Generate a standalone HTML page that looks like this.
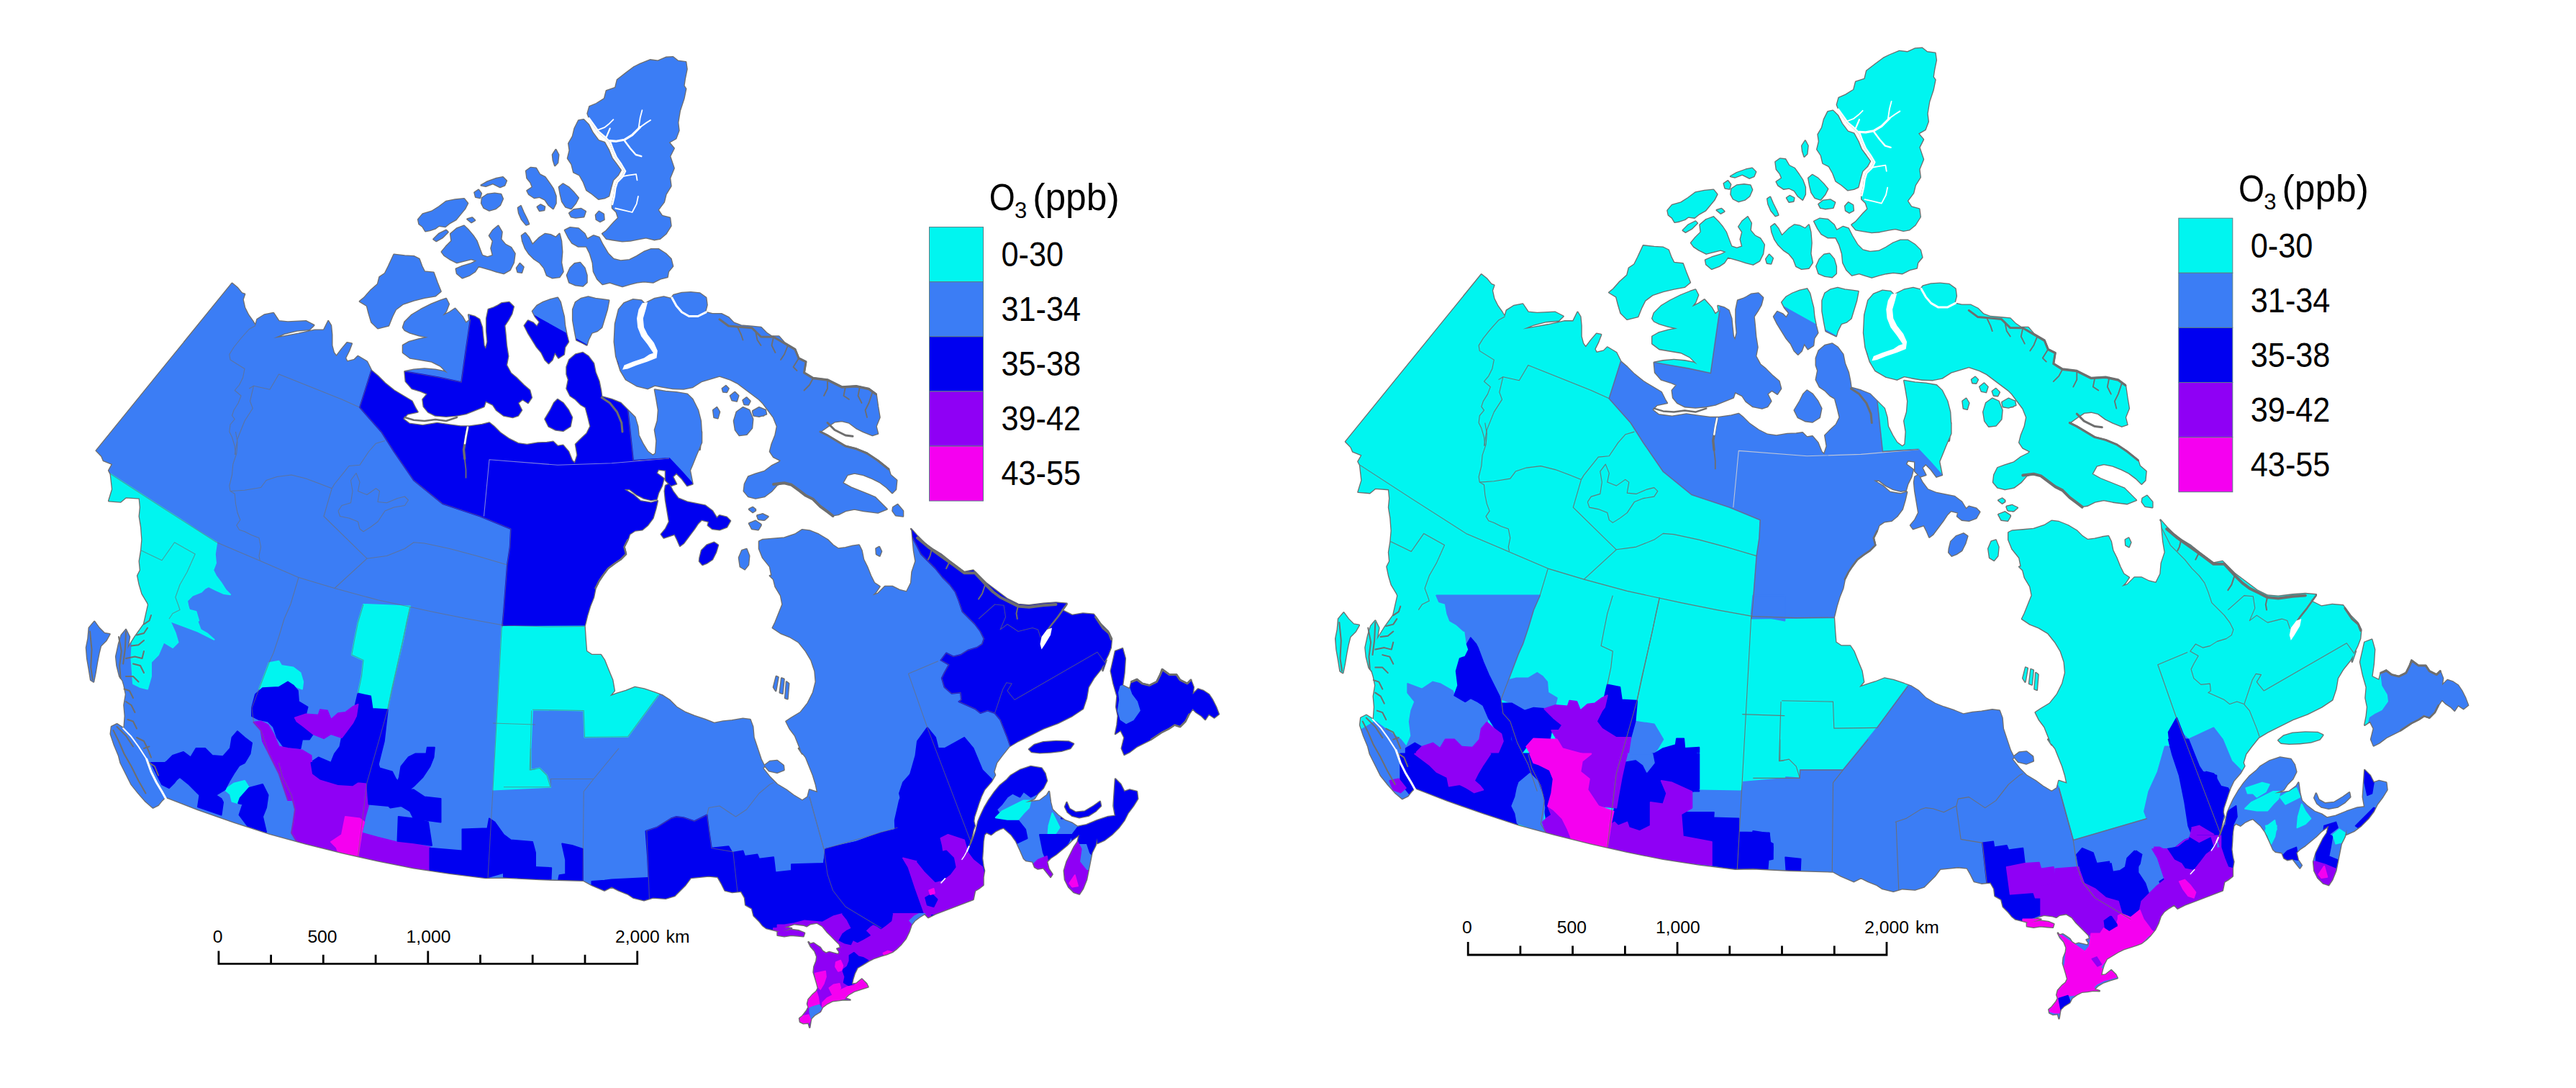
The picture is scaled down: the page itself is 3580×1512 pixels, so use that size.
<!DOCTYPE html>
<html><head><meta charset="utf-8"><title>O3 maps</title>
<style>html,body{margin:0;padding:0;background:#fff}svg{display:block}
.lg{font-family:"Liberation Sans",sans-serif;fill:#000}
.sc{font-family:"Liberation Sans",sans-serif;fill:#000;font-size:24.7px;text-anchor:middle}
</style></head><body>
<svg width="3580" height="1512" viewBox="0 0 3580 1512">
<defs>
<g id="land">
<polygon points="889.7,89 903.4,83.4 914.5,84.8 925.5,79.9 935.2,79.3 942.1,84.8 953.1,86.2 954.5,95.9 951.7,109.7 950.3,119.3 953.1,123.4 950.3,137.2 944.8,153.8 942.1,170.3 943.4,181.4 939.3,192.4 929.7,197.9 936.6,206.2 931,217.2 936.6,233.8 931,247.6 932.4,258.6 925.5,269.7 922.8,280.7 914.5,291.7 920,300 931,302.8 932.4,313.8 925.5,324.8 917.2,331.7 909,333.1 897.9,330.3 889.7,331.7 875.9,334.5 864.8,335.3 851,333.1 842.8,331.7 837.2,324.8 842.8,320.7 853.8,308.3 859.3,302.8 856.6,294.5 851,289 851,283.4 853.8,272.4 855.2,261.4 857.9,253.1 864.8,246.2 869,237.9 863.4,228.3 856.6,218.6 852.4,209 848.3,197.9 840,189.7 831.7,182.8 824.8,173.1 819.3,164.8 816.6,157.9 819.3,148.3 829,144.1 840,137.2 842.8,126.2 855.2,122.1 857.9,111 870.3,101.4 881.4,93.1"/>
<polygon points="804.1,167.6 811,166.2 817.9,173.1 823.4,184.1 831.7,195.2 840,197.9 846.1,209 850.5,220 857.1,228.8 862.6,236.6 858.8,243.4 851.9,250.3 848.8,261.4 846.1,272.4 840,275.2 831.7,276.6 823.4,269.7 815.2,264.1 811,253.1 805.5,243.4 797.2,239.3 794.5,228.3 789,220 791.7,209 790.3,199.3 795.9,189.7 798.6,178.6"/>
<polygon points="581.2,305 587.5,297.5 600,293.8 610,287.5 620,280 632.5,277.5 645,276.2 650,282.5 646.2,290 640,297.5 633.8,305 625,310 618.8,315 610,313.8 605,317.5 597.5,320 591.2,321.2 587.5,315 582.5,311.2"/>
<polygon points="602.5,332.5 610,325 620,320 622.5,322.5 615,330 606.2,335.0"/>
<polygon points="668.8,257.5 677.5,252.5 690,248 698.8,246.2 703.8,251.2 701.2,257.5 695,260 685,255 675,258.8"/>
<polygon points="670,275 677.5,270 687.5,268.8 696.2,270 698.8,276.2 695,285 688.8,290 680,292.5 672.5,288.8 669.2,282.5"/>
<polygon points="659.5,267.5 665,263.8 668.8,268.8 667,275 661.2,273.8"/>
<polygon points="649.5,304.5 656.2,302.5 660,306.2 655,309.0"/>
<polygon points="731.2,237.5 737.5,233 745,233.8 750,242.5 757.5,246.2 763.8,255 768.8,262.5 772.5,272.5 772.5,282.5 768.8,290 762.5,285 757.5,277.5 750,273.8 742.5,275 735,270 732.5,265 740,260 737.5,253.8 732.5,247.5"/>
<polygon points="777,260 782.5,255.5 790,260 797.5,267.5 803.8,275 800,282.5 793.8,290 786.2,287.5 781.2,280 778.8,270.0"/>
<polygon points="768,215 772.5,208 776.2,215 775,226.2 771.2,230 768.8,222.5"/>
<polygon points="746.8,287.5 751.2,284.5 757,287.5 756.2,292 750,293.0"/>
<polygon points="720,288.8 723.8,286.2 727.5,295 732.5,305 735,311.2 731.2,312.5 725,305 721.2,296.2"/>
<polygon points="791.2,296.2 797.5,291.2 807.5,290 813.8,293.8 811.2,301.2 800,302.5 793.8,301.2"/>
<polygon points="828,298.8 832.5,293.8 838.8,297.5 839.5,305 833.8,308 828.8,305.0"/>
<polygon points="613.8,350 620,342.5 627.5,335 626.2,325 635,317.5 645,313.8 651.2,320 657.5,327.5 662.5,335 666.2,345 670,355 677.5,357.5 685,355 682.5,345 685,335 680,327.5 685,320 692.5,313.8 697.5,322.5 696.2,332.5 702.5,340 710,343.8 715.5,352.5 713.8,365 708.8,375 700,380 690,377.5 682.5,375 673.8,372.5 665,370 660,377.5 652.5,382.5 642.5,386.2 635,380 633.8,373.8 642.5,370 655,366.2 662.5,362.5 655,360 645,362.5 635,365 625,360 617.5,355.0"/>
<polygon points="718,372.5 722.5,366.2 727.5,371.2 725,378.8 719.5,378.0"/>
<polygon points="725,327.5 730,323.8 735,330 740,340 745,335 750,330 757.5,325 765,326.2 772.5,330 777.5,325 780,335 781.2,350 780,365 782.5,377.5 777.5,385 767.5,386.2 760,382.5 756.2,372.5 750,365 742.5,360 735,352.5 730,345 726.2,335.0"/>
<polygon points="788,382.5 792.5,372.5 798.8,366.2 806.2,365 812.5,372.5 815.5,382.5 815.5,392.5 810,397.5 800,396.2 791.2,392.5"/>
<polygon points="785,320 792.5,316.2 803.8,317.5 812.5,325 816.2,332.5 825,327.5 832.5,330 837.5,340 845,352.5 852.5,360 862.5,362.5 875,361.2 885,356.2 895,350 905,346.2 915,346.2 925,352.5 932.5,360 935,370 928.8,377.5 927.5,385 917.5,387.5 907.5,392.5 895,391.2 885,392.5 875,395 865,398 855,395 847.5,392.5 837.5,395 830,387.5 825,377.5 823.8,365 820,352.5 815,342.5 803.8,342.5 795,337.5 790,330.0"/>
<polygon points="322.5,393.8 330,400 336.2,407.5 340,408.8 337.5,416.2 340,427.5 345,437.5 351.2,446.2 355,452.5 357.5,443.8 367.5,437.5 380,435 387.5,446.2 400,447.5 425,446.2 436.2,452 430,458 412.5,459.5 395,463.8 380,470 395,467.5 415,463.8 437.5,458.8 450,458.8 456.2,446.2 460,452.5 461.2,465 461.2,480 463.8,490 467.5,495 475,485 482.5,476.2 488.8,477.5 485,487.5 480,497.5 482.5,502.5 492.5,500 497.5,495 510,502.5 516.2,515 525,522.5 535,532.5 547.5,542.5 560,550 572.5,557.5 577.5,567.5 580.5,572.5 566.2,575.5 560,582 568.8,588.8 587.5,591.2 607.5,588 625,590.5 640,592.5 652.5,592.5 670,590 680,587.5 686.2,592.5 695,601.2 707.5,610 720,616.2 732.5,618 747.5,615.5 760,615 768.8,613.8 775,620 782.5,618.8 790,627.5 795,640 798.8,643.8 802.5,632.5 800,617.5 806.2,611.2 815.5,602.5 820.5,592.5 817.5,580 813.8,566.2 807.5,562.5 800,555 792.5,550 787.5,540 790,527.5 787.5,520 787.5,510 791.2,500 800,492.5 810,490 817.5,495 825,505 827.5,517.5 832.5,530 835,542.5 836.2,551.2 850,555 862.5,560 872.5,570 882.5,580 886.2,592.5 887.5,605 893.8,617.5 900,627.5 907.5,633 911.2,630 912.5,612.5 910,597.5 913.8,585 915,570 912.5,555 910,541.5 925,544 940,545.2 955,547.8 962.5,555 970,570 973.8,585 975,605 972.5,625 975,600 975,615 967.5,632.5 962.5,645 958.8,653.8 962.5,672.5 955,675 947.5,665 940,657.5 935,662.5 940,672.5 932.5,675 925,667.5 925,653.8 915,652.5 912.5,657.5 922.5,665 920,675 915,685 912.5,693.8 905,695 895,692.5 885,687.5 875,680 867.5,680 880,687.5 890,696.2 905,698.8 913.8,696.2 911.2,707.5 907.5,720 900,730 892.5,736.2 882.5,737.5 875,742.5 872.5,750 867.5,760 870,770 862.5,777.5 855,782.5 845,790 837.5,800 832.5,807.5 827.5,817.5 825,830 820,842.5 816.2,855 813.8,865 812.5,870 813.8,890 815,905 822.5,910 835,910 840,917.5 845,930 851.2,945 853.8,960 847.5,967.5 857.5,963.8 870,960 882.5,955 895,957.5 910,962.5 920,966.2 930,972.5 940,982.5 952.5,990 965,995 980,1000 992.5,1005 1005,1002.5 1017.5,1001.2 1032.5,998.8 1042.5,1000 1046.2,1010 1047.5,1025 1052.5,1040 1057.5,1055 1062.5,1065 1060,1067.5 1070,1080 1080,1090 1092.5,1097.5 1102.5,1105 1115,1112.5 1122.5,1107.5 1125,1097.5 1136.2,1101.2 1133.8,1090 1130,1077.5 1125,1065 1120,1052.5 1110,1040 1115,1047.5 1110,1035 1105,1022.5 1097.5,1012.5 1092.5,1002.5 1100,997.5 1112.5,990 1122.5,977.5 1130,962.5 1133.8,947.5 1132.5,932.5 1127.5,917.5 1120,905 1110,892.5 1097.5,885 1085,880 1073.8,872.5 1077.5,865 1082.5,852.5 1087.5,840 1085,827.5 1077.5,815 1075,805 1070,800 1072.5,800 1070,787.5 1060,775 1055,762.5 1055,752.5 1060,750 1075,748.8 1090,747.5 1105,742.5 1115,736.2 1125,737.5 1137.5,742.5 1150,750 1157.5,757.5 1165,762.5 1175,761.2 1185,758.8 1193.8,757.5 1197.5,765 1200,777.5 1205,787.5 1210,800 1215,810 1222.5,815 1217.5,822.5 1212.5,827.5 1220,825 1230,815 1240,815 1250,820 1260,822.5 1266.2,810 1267.5,795 1272.5,780 1270,765 1268.8,752.5 1267.5,737.5 1266.2,735 1275,745 1285,755 1295,762.5 1307.5,770 1320,780 1330,787.5 1340,795 1352.5,792.5 1360,800 1370,810 1380,817.5 1390,825 1400,832.5 1415,840 1430,841.2 1450,838.8 1467.5,837.5 1482.5,838.8 1475,847.5 1490,855 1505,852.5 1520,853.8 1530,867.5 1540,877.5 1545,887.5 1543.8,900 1540,910 1535,920 1532.5,932 1537.5,917.5 1530,930 1520,942.5 1512.5,955 1510,970 1505,985 1490,995 1470,1005 1450,1012.5 1430,1022.5 1415,1030 1402.5,1037.5 1392.5,1050 1385,1060 1381.2,1072.5 1383,1077 1377.5,1086.5 1368,1097.5 1363.5,1107 1360.2,1116.2 1357.2,1125.5 1354,1135 1353.2,1141.2 1354.8,1147.5 1352.5,1153.8 1351,1161.5 1348.5,1169.5 1346.2,1177.2 1347.5,1177.2 1351,1169.5 1354,1161.5 1356.5,1153.8 1358,1147.5 1359.5,1141.2 1363.5,1132 1368,1122.5 1374.5,1111.5 1382.2,1100.5 1390,1091.2 1399.5,1083.5 1405,1077.5 1417.5,1070 1432.5,1065 1447.5,1067.5 1452.5,1075 1455,1085 1450,1095 1442.5,1102.5 1437.5,1110 1425,1115 1445,1112.5 1455,1105 1458,1100 1460,1115 1462.5,1125 1470,1132.5 1480,1140 1490,1143.8 1497.5,1148.8 1510,1146.2 1525,1140 1540,1135 1550,1133.8 1547.5,1120 1548.8,1100 1550,1082.5 1557.5,1090 1562.5,1100 1570,1097.5 1580,1100 1581.2,1110 1575,1120 1567.5,1130 1562.5,1140 1555,1150 1545,1160 1535,1167.5 1525,1172 1525,1165 1522.5,1175 1517.5,1185 1515,1197.5 1512.5,1210 1510,1222.5 1505,1235 1500,1242.5 1492.5,1240 1485,1232.5 1480,1222.5 1478.8,1210 1482.5,1197.5 1487.5,1187.5 1492.5,1177.5 1497.5,1170 1500,1160 1490,1167.5 1482.5,1175 1475,1181.2 1467.5,1187.5 1460,1192.5 1455,1197.5 1457.5,1207.5 1462.5,1215 1460,1218.8 1455,1212.5 1450,1206.2 1442.5,1207.5 1438,1205 1435,1197.5 1426,1196 1422.8,1193 1418,1182 1412,1169 1405.5,1160 1394.8,1150.5 1390,1152 1383.8,1155 1377.5,1160 1371,1157 1368,1160 1366.5,1169 1365.8,1182 1365,1193 1366.5,1203.8 1368,1210 1366.5,1219 1366.5,1230 1360,1235 1355,1238 1352.5,1250 1300,1270 1290,1275 1285.3,1270 1277.5,1274.7 1271.2,1279.4 1266.6,1285.6 1263.4,1295 1258.8,1304.4 1252.5,1312.2 1246.2,1318.4 1240,1323.1 1232.2,1326.2 1224.4,1328.6 1215,1331.7 1207.2,1335.6 1199.4,1340.3 1191.6,1345 1187.7,1352.8 1185.3,1360.6 1183.8,1367.7 1190,1366.9 1197.8,1360.6 1204.1,1366.9 1206.4,1371.6 1196.2,1374.7 1186.9,1377.8 1179.1,1382.5 1174.4,1387.2 1181.4,1389.5 1172.8,1389.1 1165,1390.3 1157.2,1391.1 1149.4,1395 1143.1,1399.7 1140,1405.9 1132.2,1410.6 1127.5,1415.3 1126.7,1418.4 1125.2,1427.8 1123.6,1421.6 1116.6,1422.3 1111.9,1420 1111.1,1415.3 1115,1412.2 1121.2,1404.4 1123.6,1399.7 1122,1395 1123.6,1388.8 1129.1,1382.5 1134.5,1377.8 1136.9,1373.1 1135.3,1366.9 1133,1359.1 1130.6,1351.2 1131.4,1343.4 1134.5,1335.6 1135.3,1329.4 1132.2,1321.6 1126.7,1315.3 1123.6,1309.1 1125.9,1311.9 1130.6,1310.6 1135.3,1313.8 1140,1316.9 1143.1,1321.6 1147.8,1324.7 1152.5,1323.1 1158.8,1324.7 1165,1326.2 1166.6,1323.1 1163.4,1318.4 1168.1,1316.9 1166.6,1312.2 1161.9,1307.5 1155.6,1301.2 1149.4,1295 1143.1,1287.2 1135.3,1282.5 1125.9,1284.1 1121.2,1287.2 1116.6,1285.6 1104.1,1284.1 1090,1288.8 1100,1290 1085,1295 1075,1292.5 1065,1290 1060,1286.2 1055,1280 1047.5,1272.5 1045,1262.5 1036.2,1257.5 1035,1247.5 1030,1238.8 1017.5,1240 1007.5,1237.5 1002.5,1227.5 997.5,1218.8 985,1217.5 972.5,1218.8 960,1220 952.5,1230 945,1237.5 937.5,1245 925,1248.8 907.5,1247.5 895,1251.2 880,1247.5 872.5,1242.5 860,1237.5 850,1232.5 840,1237.5 822.5,1230 811.2,1223.8 810,1223.8 750,1222 700,1219.5 675,1220 625,1213.8 575,1206.2 525,1196.2 475,1185 425,1172.5 375,1158.8 325,1142.5 275,1125 230,1107.5 225,1112.5 220,1118.8 212.5,1122.5 202.5,1113.8 192.5,1102.5 182.5,1090 175,1075 167.5,1060 165,1050 158.8,1035 153.8,1020 155,1010 162.5,1006.2 172.5,1012.5 173.8,995 172.5,980 175,965 172.5,952.5 168.8,940 170,922.5 175,905 187.5,885 200,867.5 206.2,840 208.8,847.5 205,837.5 197.5,825 193.8,812.5 191.2,800 195,792.5 193.8,780 196.2,765 197.5,750 196.2,732.5 193.8,717.5 195,705 193.8,692.5 175,691.2 167.5,697.5 151.2,696.2 156.2,680 153.8,658.8 151.2,653.8 156.2,645 143.8,640 141.2,633.8 133.8,626.2"/>
<polygon points="500,418.8 506.2,413.8 515,403.8 525,395 527.5,385 535,380 540,370 547.5,353.8 562.5,355.5 575,356.2 582.5,360 586.2,370 590,377.5 602.5,378.8 607.5,392.5 612.5,405 605,411.2 590,413.8 575,417.5 560,422.5 550,430 545,440 540,452.5 525,456.2 516.2,447.5 512.5,435 510,425.0"/>
<polygon points="560,455 562.5,447.5 572.5,437.5 585,430 600,422.5 612.5,417.5 620,415 623.8,422.5 620,432.5 615,438.8 625,433.8 632.5,428.8 642.5,440 647.5,448.8 652.5,445 651.2,437.5 660,440 666.2,443.8 670,455 671.2,467.5 672.5,480 675,485 677.5,475 676.2,460 676.2,442.5 678.8,430 686.2,427.5 691.2,425 697.5,421.2 707.5,420 713.8,426.2 711.2,436.2 706.2,445 701.2,452.5 702.5,465 703.8,480 706.2,495 703.8,507.5 710,518.8 717.5,525 727.5,535 736.2,542.5 738.8,552.5 733.8,560 726.2,555 720,560 725,570 720,577.5 712.5,580 700,577.5 690,570 685,562.5 675,557.5 672.5,565 660,570 647.5,575 635,577.5 620,578.8 605,577.5 595,572.5 588.8,565 587.5,555 593.8,547.5 585,543.8 572.5,540 563.8,530 562.5,516.2 575,513.8 590,512.5 605,513.8 617.5,516.2 622.5,518.8 612.5,508.8 600,502.5 585,500 570,497.5 560,490 560,480 568.8,475 582.5,471.2 595,468.8 582.5,466.2 570,462.5 562.5,458.8"/>
<polygon points="728.8,452.5 733.8,445.5 741.2,448.8 746.2,453.8 750,447.5 743.8,440 740,432.5 746.2,425 755,420 765,416.2 775,413.8 778.8,420 781.2,430 783.8,440 785,452.5 787.5,465 790,475 785,482.5 783.8,492.5 776.2,497.5 771.2,490 767.5,500 762.5,505 757.5,500 752.5,490 746.2,482.5 740,472.5 733.8,462.5"/>
<polygon points="796.2,430 800,420 807.5,415 817.5,412.5 827.5,415 837.5,416.2 846.2,417.5 843.8,430 840,442.5 836.2,455 830,460 822.5,462.5 817.5,472.5 815.5,479.5 808.8,476.2 801.2,472.5 798.8,460 796.2,445.0"/>
<polygon points="757.5,582.5 765,570 770,560 775,555 782.5,560 790,570 795,580 792.5,592.5 782.5,598.8 772.5,597.5 762.5,592.5"/>
<polygon points="870,527.5 862.5,515 856.2,495 853.8,475 855,450 860,430 867.5,421.2 880,416.2 891.2,417.5 896.2,422.5 900,420 910,415 922.5,412.5 932.5,415 936.2,410 947.5,407 960,406.2 972.5,407.5 981.2,413.8 982.5,423.8 980,433.8 990,436.2 1002.5,436.2 1012.5,441.2 1020,448.8 1030,452.5 1045,453.8 1057.5,455 1065,462.5 1072.5,467.5 1082.5,467.5 1090,476.2 1105,485 1110,497.5 1120,502.5 1117.5,517.5 1130,525 1150,527.5 1170,537.5 1190,536.2 1207.5,540 1217.5,547.5 1220,565 1222.5,580 1217.5,592.5 1220,602.5 1212.5,605 1200,600 1190,595 1180,587.5 1170,585 1160,586.2 1152.5,591.2 1140,600 1150,605 1162.5,612.5 1175,620 1190,623.8 1205,630 1220,640 1235,652 1237.5,660 1246.2,667.5 1245,680 1240,685 1232.5,677.5 1222.5,670 1212.5,665 1200,660 1187.5,657.5 1177.5,660 1171.2,671.2 1182.5,677.5 1195,682.5 1207.5,687.5 1216.2,691.2 1225,700 1232.5,707.5 1220,712.5 1200,710 1187.5,707.5 1175,710 1165,715 1157.5,716.2 1150,710 1140,702.5 1130,692.5 1120,687.5 1110,680 1100,672.5 1090,670 1080,673.8 1072.5,682.5 1062.5,690 1050,692.5 1040,690 1033.8,682.5 1035,672.5 1040,662.5 1050,658.8 1062.5,655 1072.5,647.5 1082.5,642.5 1085,640 1075,635 1070,627.5 1072.5,617.5 1077.5,605 1080,592.5 1075,580 1067.5,570 1060,560 1055,555 1045,547.5 1035,540 1025,532.5 1015,527.5 1000,522.5 987.5,526.2 975,530 962.5,538 950,540.5 935,540 920,537.5 910,535.5 900,540 885,536.2"/>
<polygon points="925,675 930,672.5 935,682.5 942.5,692.5 955,697.5 967.5,700 980,702.5 990,710 996.2,720 1000,716.2 1010,718.8 1015,723.8 1010,732.5 1000,736.2 990,735 983.8,730 985,725 975,722.5 970,727.5 965,735 957.5,745 950,755 945,758.8 941.2,750 937.5,742.5 930,745 922.5,747.5 918.8,742.5 925,735 930,725 927.5,710 925,695 923.8,682.5"/>
<polygon points="972.5,775 975,765 982.5,757.5 992.5,753.8 998,757.5 995,767.5 990,777.5 982.5,782.5 976.2,785 972,780.0"/>
<polygon points="1027,775 1031.2,765 1037.5,763 1041.2,772.5 1040,785 1035,791.2 1028.8,787.5"/>
<polygon points="1041.2,708 1046.2,706.2 1050,709.5 1046.2,712.0"/>
<polygon points="1052.5,716.2 1060,714.5 1065,718.8 1061.2,722.5 1053.8,721.2"/>
<polygon points="1041.2,727.5 1050,724.5 1057.5,730 1053.8,736.2 1045,735.0"/>
<polygon points="1020,585 1023.8,572.5 1032.5,566.2 1041.2,570 1046.2,582.5 1045,595 1037.5,603.8 1027.5,605 1022,597.5"/>
<polygon points="1046.2,572.5 1055,568 1063.8,570 1065,575.5 1055,578.8 1047.5,577.5"/>
<polygon points="991.2,570 996.2,566.2 1000,572.5 997.5,581.2 992.5,580.0"/>
<polygon points="1241.2,705 1247.5,701.2 1255,710 1255,717.5 1245,716.2 1240.5,710.0"/>
<polygon points="1003.8,540 1008.8,536.2 1012.5,540 1010,545 1005,544.5"/>
<polygon points="1015,550 1021.2,545 1026.2,550 1023.8,557.5 1017.5,556.2"/>
<polygon points="1032.5,556.2 1037.5,552.5 1042.5,557.5 1040,562.5 1034.5,562.0"/>
<polygon points="1046.2,571.2 1055,566.2 1063.8,570 1061.2,577.5 1050,577.5"/>
<polygon points="1550,905 1560,901.2 1563.8,915 1562.5,935 1560,952.5 1570,957.5 1572.5,947.5 1580,943.8 1587.5,950 1597.5,952.5 1607.5,947.5 1612.5,937.5 1615,930 1625,937.5 1635,937.5 1640,945 1650,950 1655,945 1658.8,955 1657.5,965 1665,957.5 1672.5,960 1680,965 1685,972.5 1690,982.5 1693.8,992.5 1687.5,997.5 1680,992.5 1675,1000 1670,995 1662.5,990 1657.5,985 1652.5,992.5 1647.5,1002.5 1640,1010 1632.5,1007.5 1625,1012.5 1615,1017.5 1607.5,1022.5 1600,1027.5 1590,1032.5 1580,1037.5 1570,1045 1562.5,1048.8 1558.8,1040 1562.5,1025 1557.5,1015 1550,1020 1552.5,1007.5 1553.8,995 1551.2,982.5 1552.5,967.5 1547.5,950 1543.8,932.5"/>
<polygon points="1430,1041.2 1437.5,1035 1450,1031.2 1467.5,1030 1485,1030.5 1492,1033.8 1487.5,1040 1475,1043.8 1460,1045.5 1445,1046.2 1433.8,1045.0"/>
<polygon points="1480,1121.2 1482.5,1115 1486.2,1123.8 1495,1128.8 1507.5,1127.5 1520,1120 1528.8,1113.8 1530,1120 1522.5,1127.5 1512.5,1133.8 1500,1136.2 1490,1133.8 1483.8,1128.8"/>
<polygon points="123.8,872.5 131.2,863.8 137.5,872.5 145,880 152.5,881.2 147.5,890 140,897.5 137.5,907.5 135,920 132.5,935 130,947.5 126.2,945 123.8,930 121.2,915 120,900 122.5,887.5"/>
<polygon points="161.2,912.5 165,895 168.8,882.5 175,875 180,885 177.5,900 175,915 172.5,930 170,945 166.2,940 162.5,925.0"/>
<polygon points="1062.5,1063.8 1070,1058 1080,1057 1088.8,1063.8 1089.5,1070 1080,1073.8 1068.8,1071.2"/>
<polygon points="1217.5,762.5 1222,760 1225,766.2 1222.5,772.5 1218,770.0"/>
<polygon points="1041.2,707.5 1046.2,705 1050,708 1046.2,711.2"/>
<polygon points="1052.5,717.5 1060,714.5 1067.5,718 1062.5,722.5 1055,722.0"/>
<polygon points="1041.2,727.5 1050,723.8 1057.5,728.8 1053.8,735 1045,733.8"/>
<polygon points="1090,1293.4 1099.4,1291.9 1110.3,1293.4 1118.1,1296.6 1116.6,1301.2 1108.8,1300.5 1099.4,1299.7 1090,1301.2 1080.6,1299.7 1080.6,1295.0"/>
<polygon points="1075,955 1078.8,940 1081.5,941.2 1078.2,960.0"/>
<polygon points="1083.8,962.5 1086.2,942.5 1089.5,943.8 1087.5,963.8"/>
<polygon points="1091.2,970 1093,947.5 1096.2,950 1094.5,971.2"/>
</g>
<clipPath id="lc">
<polygon points="889.7,89 903.4,83.4 914.5,84.8 925.5,79.9 935.2,79.3 942.1,84.8 953.1,86.2 954.5,95.9 951.7,109.7 950.3,119.3 953.1,123.4 950.3,137.2 944.8,153.8 942.1,170.3 943.4,181.4 939.3,192.4 929.7,197.9 936.6,206.2 931,217.2 936.6,233.8 931,247.6 932.4,258.6 925.5,269.7 922.8,280.7 914.5,291.7 920,300 931,302.8 932.4,313.8 925.5,324.8 917.2,331.7 909,333.1 897.9,330.3 889.7,331.7 875.9,334.5 864.8,335.3 851,333.1 842.8,331.7 837.2,324.8 842.8,320.7 853.8,308.3 859.3,302.8 856.6,294.5 851,289 851,283.4 853.8,272.4 855.2,261.4 857.9,253.1 864.8,246.2 869,237.9 863.4,228.3 856.6,218.6 852.4,209 848.3,197.9 840,189.7 831.7,182.8 824.8,173.1 819.3,164.8 816.6,157.9 819.3,148.3 829,144.1 840,137.2 842.8,126.2 855.2,122.1 857.9,111 870.3,101.4 881.4,93.1"/>
<polygon points="804.1,167.6 811,166.2 817.9,173.1 823.4,184.1 831.7,195.2 840,197.9 846.1,209 850.5,220 857.1,228.8 862.6,236.6 858.8,243.4 851.9,250.3 848.8,261.4 846.1,272.4 840,275.2 831.7,276.6 823.4,269.7 815.2,264.1 811,253.1 805.5,243.4 797.2,239.3 794.5,228.3 789,220 791.7,209 790.3,199.3 795.9,189.7 798.6,178.6"/>
<polygon points="581.2,305 587.5,297.5 600,293.8 610,287.5 620,280 632.5,277.5 645,276.2 650,282.5 646.2,290 640,297.5 633.8,305 625,310 618.8,315 610,313.8 605,317.5 597.5,320 591.2,321.2 587.5,315 582.5,311.2"/>
<polygon points="602.5,332.5 610,325 620,320 622.5,322.5 615,330 606.2,335.0"/>
<polygon points="668.8,257.5 677.5,252.5 690,248 698.8,246.2 703.8,251.2 701.2,257.5 695,260 685,255 675,258.8"/>
<polygon points="670,275 677.5,270 687.5,268.8 696.2,270 698.8,276.2 695,285 688.8,290 680,292.5 672.5,288.8 669.2,282.5"/>
<polygon points="659.5,267.5 665,263.8 668.8,268.8 667,275 661.2,273.8"/>
<polygon points="649.5,304.5 656.2,302.5 660,306.2 655,309.0"/>
<polygon points="731.2,237.5 737.5,233 745,233.8 750,242.5 757.5,246.2 763.8,255 768.8,262.5 772.5,272.5 772.5,282.5 768.8,290 762.5,285 757.5,277.5 750,273.8 742.5,275 735,270 732.5,265 740,260 737.5,253.8 732.5,247.5"/>
<polygon points="777,260 782.5,255.5 790,260 797.5,267.5 803.8,275 800,282.5 793.8,290 786.2,287.5 781.2,280 778.8,270.0"/>
<polygon points="768,215 772.5,208 776.2,215 775,226.2 771.2,230 768.8,222.5"/>
<polygon points="746.8,287.5 751.2,284.5 757,287.5 756.2,292 750,293.0"/>
<polygon points="720,288.8 723.8,286.2 727.5,295 732.5,305 735,311.2 731.2,312.5 725,305 721.2,296.2"/>
<polygon points="791.2,296.2 797.5,291.2 807.5,290 813.8,293.8 811.2,301.2 800,302.5 793.8,301.2"/>
<polygon points="828,298.8 832.5,293.8 838.8,297.5 839.5,305 833.8,308 828.8,305.0"/>
<polygon points="613.8,350 620,342.5 627.5,335 626.2,325 635,317.5 645,313.8 651.2,320 657.5,327.5 662.5,335 666.2,345 670,355 677.5,357.5 685,355 682.5,345 685,335 680,327.5 685,320 692.5,313.8 697.5,322.5 696.2,332.5 702.5,340 710,343.8 715.5,352.5 713.8,365 708.8,375 700,380 690,377.5 682.5,375 673.8,372.5 665,370 660,377.5 652.5,382.5 642.5,386.2 635,380 633.8,373.8 642.5,370 655,366.2 662.5,362.5 655,360 645,362.5 635,365 625,360 617.5,355.0"/>
<polygon points="718,372.5 722.5,366.2 727.5,371.2 725,378.8 719.5,378.0"/>
<polygon points="725,327.5 730,323.8 735,330 740,340 745,335 750,330 757.5,325 765,326.2 772.5,330 777.5,325 780,335 781.2,350 780,365 782.5,377.5 777.5,385 767.5,386.2 760,382.5 756.2,372.5 750,365 742.5,360 735,352.5 730,345 726.2,335.0"/>
<polygon points="788,382.5 792.5,372.5 798.8,366.2 806.2,365 812.5,372.5 815.5,382.5 815.5,392.5 810,397.5 800,396.2 791.2,392.5"/>
<polygon points="785,320 792.5,316.2 803.8,317.5 812.5,325 816.2,332.5 825,327.5 832.5,330 837.5,340 845,352.5 852.5,360 862.5,362.5 875,361.2 885,356.2 895,350 905,346.2 915,346.2 925,352.5 932.5,360 935,370 928.8,377.5 927.5,385 917.5,387.5 907.5,392.5 895,391.2 885,392.5 875,395 865,398 855,395 847.5,392.5 837.5,395 830,387.5 825,377.5 823.8,365 820,352.5 815,342.5 803.8,342.5 795,337.5 790,330.0"/>
<polygon points="322.5,393.8 330,400 336.2,407.5 340,408.8 337.5,416.2 340,427.5 345,437.5 351.2,446.2 355,452.5 357.5,443.8 367.5,437.5 380,435 387.5,446.2 400,447.5 425,446.2 436.2,452 430,458 412.5,459.5 395,463.8 380,470 395,467.5 415,463.8 437.5,458.8 450,458.8 456.2,446.2 460,452.5 461.2,465 461.2,480 463.8,490 467.5,495 475,485 482.5,476.2 488.8,477.5 485,487.5 480,497.5 482.5,502.5 492.5,500 497.5,495 510,502.5 516.2,515 525,522.5 535,532.5 547.5,542.5 560,550 572.5,557.5 577.5,567.5 580.5,572.5 566.2,575.5 560,582 568.8,588.8 587.5,591.2 607.5,588 625,590.5 640,592.5 652.5,592.5 670,590 680,587.5 686.2,592.5 695,601.2 707.5,610 720,616.2 732.5,618 747.5,615.5 760,615 768.8,613.8 775,620 782.5,618.8 790,627.5 795,640 798.8,643.8 802.5,632.5 800,617.5 806.2,611.2 815.5,602.5 820.5,592.5 817.5,580 813.8,566.2 807.5,562.5 800,555 792.5,550 787.5,540 790,527.5 787.5,520 787.5,510 791.2,500 800,492.5 810,490 817.5,495 825,505 827.5,517.5 832.5,530 835,542.5 836.2,551.2 850,555 862.5,560 872.5,570 882.5,580 886.2,592.5 887.5,605 893.8,617.5 900,627.5 907.5,633 911.2,630 912.5,612.5 910,597.5 913.8,585 915,570 912.5,555 910,541.5 925,544 940,545.2 955,547.8 962.5,555 970,570 973.8,585 975,605 972.5,625 975,600 975,615 967.5,632.5 962.5,645 958.8,653.8 962.5,672.5 955,675 947.5,665 940,657.5 935,662.5 940,672.5 932.5,675 925,667.5 925,653.8 915,652.5 912.5,657.5 922.5,665 920,675 915,685 912.5,693.8 905,695 895,692.5 885,687.5 875,680 867.5,680 880,687.5 890,696.2 905,698.8 913.8,696.2 911.2,707.5 907.5,720 900,730 892.5,736.2 882.5,737.5 875,742.5 872.5,750 867.5,760 870,770 862.5,777.5 855,782.5 845,790 837.5,800 832.5,807.5 827.5,817.5 825,830 820,842.5 816.2,855 813.8,865 812.5,870 813.8,890 815,905 822.5,910 835,910 840,917.5 845,930 851.2,945 853.8,960 847.5,967.5 857.5,963.8 870,960 882.5,955 895,957.5 910,962.5 920,966.2 930,972.5 940,982.5 952.5,990 965,995 980,1000 992.5,1005 1005,1002.5 1017.5,1001.2 1032.5,998.8 1042.5,1000 1046.2,1010 1047.5,1025 1052.5,1040 1057.5,1055 1062.5,1065 1060,1067.5 1070,1080 1080,1090 1092.5,1097.5 1102.5,1105 1115,1112.5 1122.5,1107.5 1125,1097.5 1136.2,1101.2 1133.8,1090 1130,1077.5 1125,1065 1120,1052.5 1110,1040 1115,1047.5 1110,1035 1105,1022.5 1097.5,1012.5 1092.5,1002.5 1100,997.5 1112.5,990 1122.5,977.5 1130,962.5 1133.8,947.5 1132.5,932.5 1127.5,917.5 1120,905 1110,892.5 1097.5,885 1085,880 1073.8,872.5 1077.5,865 1082.5,852.5 1087.5,840 1085,827.5 1077.5,815 1075,805 1070,800 1072.5,800 1070,787.5 1060,775 1055,762.5 1055,752.5 1060,750 1075,748.8 1090,747.5 1105,742.5 1115,736.2 1125,737.5 1137.5,742.5 1150,750 1157.5,757.5 1165,762.5 1175,761.2 1185,758.8 1193.8,757.5 1197.5,765 1200,777.5 1205,787.5 1210,800 1215,810 1222.5,815 1217.5,822.5 1212.5,827.5 1220,825 1230,815 1240,815 1250,820 1260,822.5 1266.2,810 1267.5,795 1272.5,780 1270,765 1268.8,752.5 1267.5,737.5 1266.2,735 1275,745 1285,755 1295,762.5 1307.5,770 1320,780 1330,787.5 1340,795 1352.5,792.5 1360,800 1370,810 1380,817.5 1390,825 1400,832.5 1415,840 1430,841.2 1450,838.8 1467.5,837.5 1482.5,838.8 1475,847.5 1490,855 1505,852.5 1520,853.8 1530,867.5 1540,877.5 1545,887.5 1543.8,900 1540,910 1535,920 1532.5,932 1537.5,917.5 1530,930 1520,942.5 1512.5,955 1510,970 1505,985 1490,995 1470,1005 1450,1012.5 1430,1022.5 1415,1030 1402.5,1037.5 1392.5,1050 1385,1060 1381.2,1072.5 1383,1077 1377.5,1086.5 1368,1097.5 1363.5,1107 1360.2,1116.2 1357.2,1125.5 1354,1135 1353.2,1141.2 1354.8,1147.5 1352.5,1153.8 1351,1161.5 1348.5,1169.5 1346.2,1177.2 1347.5,1177.2 1351,1169.5 1354,1161.5 1356.5,1153.8 1358,1147.5 1359.5,1141.2 1363.5,1132 1368,1122.5 1374.5,1111.5 1382.2,1100.5 1390,1091.2 1399.5,1083.5 1405,1077.5 1417.5,1070 1432.5,1065 1447.5,1067.5 1452.5,1075 1455,1085 1450,1095 1442.5,1102.5 1437.5,1110 1425,1115 1445,1112.5 1455,1105 1458,1100 1460,1115 1462.5,1125 1470,1132.5 1480,1140 1490,1143.8 1497.5,1148.8 1510,1146.2 1525,1140 1540,1135 1550,1133.8 1547.5,1120 1548.8,1100 1550,1082.5 1557.5,1090 1562.5,1100 1570,1097.5 1580,1100 1581.2,1110 1575,1120 1567.5,1130 1562.5,1140 1555,1150 1545,1160 1535,1167.5 1525,1172 1525,1165 1522.5,1175 1517.5,1185 1515,1197.5 1512.5,1210 1510,1222.5 1505,1235 1500,1242.5 1492.5,1240 1485,1232.5 1480,1222.5 1478.8,1210 1482.5,1197.5 1487.5,1187.5 1492.5,1177.5 1497.5,1170 1500,1160 1490,1167.5 1482.5,1175 1475,1181.2 1467.5,1187.5 1460,1192.5 1455,1197.5 1457.5,1207.5 1462.5,1215 1460,1218.8 1455,1212.5 1450,1206.2 1442.5,1207.5 1438,1205 1435,1197.5 1426,1196 1422.8,1193 1418,1182 1412,1169 1405.5,1160 1394.8,1150.5 1390,1152 1383.8,1155 1377.5,1160 1371,1157 1368,1160 1366.5,1169 1365.8,1182 1365,1193 1366.5,1203.8 1368,1210 1366.5,1219 1366.5,1230 1360,1235 1355,1238 1352.5,1250 1300,1270 1290,1275 1285.3,1270 1277.5,1274.7 1271.2,1279.4 1266.6,1285.6 1263.4,1295 1258.8,1304.4 1252.5,1312.2 1246.2,1318.4 1240,1323.1 1232.2,1326.2 1224.4,1328.6 1215,1331.7 1207.2,1335.6 1199.4,1340.3 1191.6,1345 1187.7,1352.8 1185.3,1360.6 1183.8,1367.7 1190,1366.9 1197.8,1360.6 1204.1,1366.9 1206.4,1371.6 1196.2,1374.7 1186.9,1377.8 1179.1,1382.5 1174.4,1387.2 1181.4,1389.5 1172.8,1389.1 1165,1390.3 1157.2,1391.1 1149.4,1395 1143.1,1399.7 1140,1405.9 1132.2,1410.6 1127.5,1415.3 1126.7,1418.4 1125.2,1427.8 1123.6,1421.6 1116.6,1422.3 1111.9,1420 1111.1,1415.3 1115,1412.2 1121.2,1404.4 1123.6,1399.7 1122,1395 1123.6,1388.8 1129.1,1382.5 1134.5,1377.8 1136.9,1373.1 1135.3,1366.9 1133,1359.1 1130.6,1351.2 1131.4,1343.4 1134.5,1335.6 1135.3,1329.4 1132.2,1321.6 1126.7,1315.3 1123.6,1309.1 1125.9,1311.9 1130.6,1310.6 1135.3,1313.8 1140,1316.9 1143.1,1321.6 1147.8,1324.7 1152.5,1323.1 1158.8,1324.7 1165,1326.2 1166.6,1323.1 1163.4,1318.4 1168.1,1316.9 1166.6,1312.2 1161.9,1307.5 1155.6,1301.2 1149.4,1295 1143.1,1287.2 1135.3,1282.5 1125.9,1284.1 1121.2,1287.2 1116.6,1285.6 1104.1,1284.1 1090,1288.8 1100,1290 1085,1295 1075,1292.5 1065,1290 1060,1286.2 1055,1280 1047.5,1272.5 1045,1262.5 1036.2,1257.5 1035,1247.5 1030,1238.8 1017.5,1240 1007.5,1237.5 1002.5,1227.5 997.5,1218.8 985,1217.5 972.5,1218.8 960,1220 952.5,1230 945,1237.5 937.5,1245 925,1248.8 907.5,1247.5 895,1251.2 880,1247.5 872.5,1242.5 860,1237.5 850,1232.5 840,1237.5 822.5,1230 811.2,1223.8 810,1223.8 750,1222 700,1219.5 675,1220 625,1213.8 575,1206.2 525,1196.2 475,1185 425,1172.5 375,1158.8 325,1142.5 275,1125 230,1107.5 225,1112.5 220,1118.8 212.5,1122.5 202.5,1113.8 192.5,1102.5 182.5,1090 175,1075 167.5,1060 165,1050 158.8,1035 153.8,1020 155,1010 162.5,1006.2 172.5,1012.5 173.8,995 172.5,980 175,965 172.5,952.5 168.8,940 170,922.5 175,905 187.5,885 200,867.5 206.2,840 208.8,847.5 205,837.5 197.5,825 193.8,812.5 191.2,800 195,792.5 193.8,780 196.2,765 197.5,750 196.2,732.5 193.8,717.5 195,705 193.8,692.5 175,691.2 167.5,697.5 151.2,696.2 156.2,680 153.8,658.8 151.2,653.8 156.2,645 143.8,640 141.2,633.8 133.8,626.2"/>
<polygon points="500,418.8 506.2,413.8 515,403.8 525,395 527.5,385 535,380 540,370 547.5,353.8 562.5,355.5 575,356.2 582.5,360 586.2,370 590,377.5 602.5,378.8 607.5,392.5 612.5,405 605,411.2 590,413.8 575,417.5 560,422.5 550,430 545,440 540,452.5 525,456.2 516.2,447.5 512.5,435 510,425.0"/>
<polygon points="560,455 562.5,447.5 572.5,437.5 585,430 600,422.5 612.5,417.5 620,415 623.8,422.5 620,432.5 615,438.8 625,433.8 632.5,428.8 642.5,440 647.5,448.8 652.5,445 651.2,437.5 660,440 666.2,443.8 670,455 671.2,467.5 672.5,480 675,485 677.5,475 676.2,460 676.2,442.5 678.8,430 686.2,427.5 691.2,425 697.5,421.2 707.5,420 713.8,426.2 711.2,436.2 706.2,445 701.2,452.5 702.5,465 703.8,480 706.2,495 703.8,507.5 710,518.8 717.5,525 727.5,535 736.2,542.5 738.8,552.5 733.8,560 726.2,555 720,560 725,570 720,577.5 712.5,580 700,577.5 690,570 685,562.5 675,557.5 672.5,565 660,570 647.5,575 635,577.5 620,578.8 605,577.5 595,572.5 588.8,565 587.5,555 593.8,547.5 585,543.8 572.5,540 563.8,530 562.5,516.2 575,513.8 590,512.5 605,513.8 617.5,516.2 622.5,518.8 612.5,508.8 600,502.5 585,500 570,497.5 560,490 560,480 568.8,475 582.5,471.2 595,468.8 582.5,466.2 570,462.5 562.5,458.8"/>
<polygon points="728.8,452.5 733.8,445.5 741.2,448.8 746.2,453.8 750,447.5 743.8,440 740,432.5 746.2,425 755,420 765,416.2 775,413.8 778.8,420 781.2,430 783.8,440 785,452.5 787.5,465 790,475 785,482.5 783.8,492.5 776.2,497.5 771.2,490 767.5,500 762.5,505 757.5,500 752.5,490 746.2,482.5 740,472.5 733.8,462.5"/>
<polygon points="796.2,430 800,420 807.5,415 817.5,412.5 827.5,415 837.5,416.2 846.2,417.5 843.8,430 840,442.5 836.2,455 830,460 822.5,462.5 817.5,472.5 815.5,479.5 808.8,476.2 801.2,472.5 798.8,460 796.2,445.0"/>
<polygon points="757.5,582.5 765,570 770,560 775,555 782.5,560 790,570 795,580 792.5,592.5 782.5,598.8 772.5,597.5 762.5,592.5"/>
<polygon points="870,527.5 862.5,515 856.2,495 853.8,475 855,450 860,430 867.5,421.2 880,416.2 891.2,417.5 896.2,422.5 900,420 910,415 922.5,412.5 932.5,415 936.2,410 947.5,407 960,406.2 972.5,407.5 981.2,413.8 982.5,423.8 980,433.8 990,436.2 1002.5,436.2 1012.5,441.2 1020,448.8 1030,452.5 1045,453.8 1057.5,455 1065,462.5 1072.5,467.5 1082.5,467.5 1090,476.2 1105,485 1110,497.5 1120,502.5 1117.5,517.5 1130,525 1150,527.5 1170,537.5 1190,536.2 1207.5,540 1217.5,547.5 1220,565 1222.5,580 1217.5,592.5 1220,602.5 1212.5,605 1200,600 1190,595 1180,587.5 1170,585 1160,586.2 1152.5,591.2 1140,600 1150,605 1162.5,612.5 1175,620 1190,623.8 1205,630 1220,640 1235,652 1237.5,660 1246.2,667.5 1245,680 1240,685 1232.5,677.5 1222.5,670 1212.5,665 1200,660 1187.5,657.5 1177.5,660 1171.2,671.2 1182.5,677.5 1195,682.5 1207.5,687.5 1216.2,691.2 1225,700 1232.5,707.5 1220,712.5 1200,710 1187.5,707.5 1175,710 1165,715 1157.5,716.2 1150,710 1140,702.5 1130,692.5 1120,687.5 1110,680 1100,672.5 1090,670 1080,673.8 1072.5,682.5 1062.5,690 1050,692.5 1040,690 1033.8,682.5 1035,672.5 1040,662.5 1050,658.8 1062.5,655 1072.5,647.5 1082.5,642.5 1085,640 1075,635 1070,627.5 1072.5,617.5 1077.5,605 1080,592.5 1075,580 1067.5,570 1060,560 1055,555 1045,547.5 1035,540 1025,532.5 1015,527.5 1000,522.5 987.5,526.2 975,530 962.5,538 950,540.5 935,540 920,537.5 910,535.5 900,540 885,536.2"/>
<polygon points="925,675 930,672.5 935,682.5 942.5,692.5 955,697.5 967.5,700 980,702.5 990,710 996.2,720 1000,716.2 1010,718.8 1015,723.8 1010,732.5 1000,736.2 990,735 983.8,730 985,725 975,722.5 970,727.5 965,735 957.5,745 950,755 945,758.8 941.2,750 937.5,742.5 930,745 922.5,747.5 918.8,742.5 925,735 930,725 927.5,710 925,695 923.8,682.5"/>
<polygon points="972.5,775 975,765 982.5,757.5 992.5,753.8 998,757.5 995,767.5 990,777.5 982.5,782.5 976.2,785 972,780.0"/>
<polygon points="1027,775 1031.2,765 1037.5,763 1041.2,772.5 1040,785 1035,791.2 1028.8,787.5"/>
<polygon points="1041.2,708 1046.2,706.2 1050,709.5 1046.2,712.0"/>
<polygon points="1052.5,716.2 1060,714.5 1065,718.8 1061.2,722.5 1053.8,721.2"/>
<polygon points="1041.2,727.5 1050,724.5 1057.5,730 1053.8,736.2 1045,735.0"/>
<polygon points="1020,585 1023.8,572.5 1032.5,566.2 1041.2,570 1046.2,582.5 1045,595 1037.5,603.8 1027.5,605 1022,597.5"/>
<polygon points="1046.2,572.5 1055,568 1063.8,570 1065,575.5 1055,578.8 1047.5,577.5"/>
<polygon points="991.2,570 996.2,566.2 1000,572.5 997.5,581.2 992.5,580.0"/>
<polygon points="1241.2,705 1247.5,701.2 1255,710 1255,717.5 1245,716.2 1240.5,710.0"/>
<polygon points="1003.8,540 1008.8,536.2 1012.5,540 1010,545 1005,544.5"/>
<polygon points="1015,550 1021.2,545 1026.2,550 1023.8,557.5 1017.5,556.2"/>
<polygon points="1032.5,556.2 1037.5,552.5 1042.5,557.5 1040,562.5 1034.5,562.0"/>
<polygon points="1046.2,571.2 1055,566.2 1063.8,570 1061.2,577.5 1050,577.5"/>
<polygon points="1550,905 1560,901.2 1563.8,915 1562.5,935 1560,952.5 1570,957.5 1572.5,947.5 1580,943.8 1587.5,950 1597.5,952.5 1607.5,947.5 1612.5,937.5 1615,930 1625,937.5 1635,937.5 1640,945 1650,950 1655,945 1658.8,955 1657.5,965 1665,957.5 1672.5,960 1680,965 1685,972.5 1690,982.5 1693.8,992.5 1687.5,997.5 1680,992.5 1675,1000 1670,995 1662.5,990 1657.5,985 1652.5,992.5 1647.5,1002.5 1640,1010 1632.5,1007.5 1625,1012.5 1615,1017.5 1607.5,1022.5 1600,1027.5 1590,1032.5 1580,1037.5 1570,1045 1562.5,1048.8 1558.8,1040 1562.5,1025 1557.5,1015 1550,1020 1552.5,1007.5 1553.8,995 1551.2,982.5 1552.5,967.5 1547.5,950 1543.8,932.5"/>
<polygon points="1430,1041.2 1437.5,1035 1450,1031.2 1467.5,1030 1485,1030.5 1492,1033.8 1487.5,1040 1475,1043.8 1460,1045.5 1445,1046.2 1433.8,1045.0"/>
<polygon points="1480,1121.2 1482.5,1115 1486.2,1123.8 1495,1128.8 1507.5,1127.5 1520,1120 1528.8,1113.8 1530,1120 1522.5,1127.5 1512.5,1133.8 1500,1136.2 1490,1133.8 1483.8,1128.8"/>
<polygon points="123.8,872.5 131.2,863.8 137.5,872.5 145,880 152.5,881.2 147.5,890 140,897.5 137.5,907.5 135,920 132.5,935 130,947.5 126.2,945 123.8,930 121.2,915 120,900 122.5,887.5"/>
<polygon points="161.2,912.5 165,895 168.8,882.5 175,875 180,885 177.5,900 175,915 172.5,930 170,945 166.2,940 162.5,925.0"/>
<polygon points="1062.5,1063.8 1070,1058 1080,1057 1088.8,1063.8 1089.5,1070 1080,1073.8 1068.8,1071.2"/>
<polygon points="1217.5,762.5 1222,760 1225,766.2 1222.5,772.5 1218,770.0"/>
<polygon points="1041.2,707.5 1046.2,705 1050,708 1046.2,711.2"/>
<polygon points="1052.5,717.5 1060,714.5 1067.5,718 1062.5,722.5 1055,722.0"/>
<polygon points="1041.2,727.5 1050,723.8 1057.5,728.8 1053.8,735 1045,733.8"/>
<polygon points="1090,1293.4 1099.4,1291.9 1110.3,1293.4 1118.1,1296.6 1116.6,1301.2 1108.8,1300.5 1099.4,1299.7 1090,1301.2 1080.6,1299.7 1080.6,1295.0"/>
<polygon points="1075,955 1078.8,940 1081.5,941.2 1078.2,960.0"/>
<polygon points="1083.8,962.5 1086.2,942.5 1089.5,943.8 1087.5,963.8"/>
<polygon points="1091.2,970 1093,947.5 1096.2,950 1094.5,971.2"/>
</clipPath>
<g id="water" fill="#fff">
<polyline fill="none" stroke="#6E6E6E" stroke-linecap="round" stroke-linejoin="round" stroke-width="3.4" points="650,593.8 647,610 644.5,625 645.8,637.5"/>
<polyline fill="none" stroke="#6E6E6E" stroke-linecap="round" stroke-linejoin="round" stroke-width="1.8" points="645.8,637.5 647.5,652.5 647.5,663.8"/>
<polyline fill="none" stroke="#6E6E6E" stroke-linecap="round" stroke-linejoin="round" stroke-width="3" points="836.2,552.5 847.5,560 857.5,572.5 863.8,587.5 865,600.0"/>
<polyline fill="none" stroke="#6E6E6E" stroke-linecap="round" stroke-linejoin="round" stroke-width="2.5" points="562.5,580 575,583.8 590,585 605,583 620,585 635,580.0"/>
<polyline fill="none" stroke="#6E6E6E" stroke-linecap="round" stroke-linejoin="round" stroke-width="2" points="200,867.5 207.5,862.5 210,855.0"/>
<polyline fill="none" stroke="#6E6E6E" stroke-linecap="round" stroke-linejoin="round" stroke-width="2" points="190,882.5 200,880 205,872.5"/>
<polyline fill="none" stroke="#6E6E6E" stroke-linecap="round" stroke-linejoin="round" stroke-width="2" points="182.5,897.5 192.5,896.2 200,890.0"/>
<polyline fill="none" stroke="#6E6E6E" stroke-linecap="round" stroke-linejoin="round" stroke-width="2" points="175,915 187.5,912.5 197.5,915 200,905.0"/>
<polyline fill="none" stroke="#6E6E6E" stroke-linecap="round" stroke-linejoin="round" stroke-width="2" points="185,922.5 195,925 200,935.0"/>
<polyline fill="none" stroke="#6E6E6E" stroke-linecap="round" stroke-linejoin="round" stroke-width="2" points="175,940 185,940 192.5,947.5"/>
<polyline fill="none" stroke="#6E6E6E" stroke-linecap="round" stroke-linejoin="round" stroke-width="2" points="172.5,957.5 180,960 185,970.0"/>
<polyline fill="none" stroke="#6E6E6E" stroke-linecap="round" stroke-linejoin="round" stroke-width="2" points="175,975 182.5,980 187.5,990.0"/>
<polyline fill="none" stroke="#6E6E6E" stroke-linecap="round" stroke-linejoin="round" stroke-width="2" points="177.5,1000 185,1002.5 190,1012.5"/>
<polyline fill="none" stroke="#6E6E6E" stroke-linecap="round" stroke-linejoin="round" stroke-width="2" points="190,1025 200,1030 205,1040 210,1052.5"/>
<polyline fill="none" stroke="#6E6E6E" stroke-linecap="round" stroke-linejoin="round" stroke-width="2" points="200,1040 207.5,1037.5"/>
<polyline fill="none" stroke="#6E6E6E" stroke-linecap="round" stroke-linejoin="round" stroke-width="2" points="207.5,1060 215,1065 220,1077.5"/>
<polyline fill="none" stroke="#6E6E6E" stroke-linecap="round" stroke-linejoin="round" stroke-width="2" points="165,885 168.8,905 166.2,925 167.5,942.5"/>
<polyline fill="none" stroke="#6E6E6E" stroke-linecap="round" stroke-linejoin="round" stroke-width="2" points="175,877.5 173.8,902.5 171.2,922.5"/>
<polyline fill="none" stroke="#6E6E6E" stroke-linecap="round" stroke-linejoin="round" stroke-width="2" points="125,877.5 127.5,902.5 126.2,927.5 128.8,945.0"/>
<polyline fill="none" stroke="#6E6E6E" stroke-linecap="round" stroke-linejoin="round" stroke-width="2" points="157.5,1015 165,1030 172.5,1047.5 182.5,1065 192.5,1085 202.5,1102.5"/>
<polyline fill="none" stroke="#6E6E6E" stroke-linecap="round" stroke-linejoin="round" stroke-width="2" points="162.5,1010 175,1022.5 185,1037.5"/>
<polyline fill="none" stroke="#6E6E6E" stroke-linecap="round" stroke-linejoin="round" stroke-width="4" points="1275,747.5 1290,760 1307.5,772.5 1325,785 1340,796.2 1355,796.2 1370,812.5 1380,822.5 1390,830 1402.5,836.2 1415,842.5 1430,843.8 1450,841.2 1467.5,840.0"/>
<polyline fill="none" stroke="#6E6E6E" stroke-linecap="round" stroke-linejoin="round" stroke-width="2" points="1370,810 1365,825 1360,832.5"/>
<polyline fill="none" stroke="#6E6E6E" stroke-linecap="round" stroke-linejoin="round" stroke-width="2" points="1415,841.2 1412.5,852.5 1413.8,860.0"/>
<polyline fill="none" stroke="#6E6E6E" stroke-linecap="round" stroke-linejoin="round" stroke-width="2.5" points="1482.5,840 1470,857.5 1460,870 1451.2,882.5"/>
<polyline fill="none" stroke="#6E6E6E" stroke-linecap="round" stroke-linejoin="round" stroke-width="2" points="1320,780 1315,790.0"/>
<polyline fill="none" stroke="#6E6E6E" stroke-linecap="round" stroke-linejoin="round" stroke-width="2" points="1295,762.5 1292.5,772.5 1290,777.5"/>
<polyline fill="none" stroke="#6E6E6E" stroke-linecap="round" stroke-linejoin="round" stroke-width="3" points="1522.5,857.5 1532.5,872.5 1541.2,880 1544.5,888.8"/>
<polyline fill="none" stroke="#6E6E6E" stroke-linecap="round" stroke-linejoin="round" stroke-width="3" points="1000,443.8 1012.5,453 1030,454.5 1045,455.8 1057.5,468 1075,468.2 1090,477 1105,485.8 1110,498 1120,503 1117.5,518 1130,525.8 1150,528.2 1170,538.2 1190,537 1207.5,540.8 1217.5,548.0"/>
<polyline fill="none" stroke="#6E6E6E" stroke-linecap="round" stroke-linejoin="round" stroke-width="1.8" points="1025,454.5 1030,465 1032.5,472.5"/>
<polyline fill="none" stroke="#6E6E6E" stroke-linecap="round" stroke-linejoin="round" stroke-width="1.8" points="1050,460 1052.5,472.5 1057.5,480.0"/>
<polyline fill="none" stroke="#6E6E6E" stroke-linecap="round" stroke-linejoin="round" stroke-width="1.8" points="1075,468.2 1072.5,480 1077.5,490.0"/>
<polyline fill="none" stroke="#6E6E6E" stroke-linecap="round" stroke-linejoin="round" stroke-width="1.8" points="1095,480 1090,492.5 1085,500.0"/>
<polyline fill="none" stroke="#6E6E6E" stroke-linecap="round" stroke-linejoin="round" stroke-width="1.8" points="1110,498 1102.5,510 1107.5,515.0"/>
<polyline fill="none" stroke="#6E6E6E" stroke-linecap="round" stroke-linejoin="round" stroke-width="1.8" points="1130,525.8 1125,535 1117.5,542.5"/>
<polyline fill="none" stroke="#6E6E6E" stroke-linecap="round" stroke-linejoin="round" stroke-width="1.8" points="1150,528.2 1150,540 1145,550.0"/>
<polyline fill="none" stroke="#6E6E6E" stroke-linecap="round" stroke-linejoin="round" stroke-width="1.8" points="1175,537.5 1172.5,550 1180,555.0"/>
<polyline fill="none" stroke="#6E6E6E" stroke-linecap="round" stroke-linejoin="round" stroke-width="1.8" points="1195,537 1192.5,550 1197.5,560.0"/>
<polyline fill="none" stroke="#6E6E6E" stroke-linecap="round" stroke-linejoin="round" stroke-width="1.8" points="1212.5,545 1207.5,560 1202.5,570 1205,580.0"/>
<polyline fill="none" stroke="#6E6E6E" stroke-linecap="round" stroke-linejoin="round" stroke-width="3" points="1150,587.5 1160,597.5 1175,605 1185,606.2"/>
<polyline fill="none" stroke="#6E6E6E" stroke-linecap="round" stroke-linejoin="round" stroke-width="3" points="1140,600 1150,605 1162.5,612.5 1175,620 1190,623.8 1205,630 1220,640 1235,652.0"/>
<polyline fill="none" stroke="#6E6E6E" stroke-linecap="round" stroke-linejoin="round" stroke-width="4" points="1075,673 1090,671.2 1100,673.8 1110,681.2 1120,688.8 1130,693.8 1140,703.8 1150,711.2 1157.5,717.0"/>
<polyline fill="none" stroke="#6E6E6E" stroke-linecap="round" stroke-linejoin="round" stroke-width="2.5" points="872.5,750 867.5,760 870,770 862.5,777.5 855,782.5 845,790 837.5,800 832.5,807.5 827.5,817.5"/>
<polyline fill="none" stroke="#6E6E6E" stroke-linecap="round" stroke-linejoin="round" stroke-width="3" points="1572.5,947.5 1580,944.5 1587.5,950 1597.5,952.5 1607.5,947.5 1612.5,937.5 1615.5,930.5 1625,937.5 1635,937.5 1640,945 1650,950 1655,945.0"/>
<polyline fill="none" stroke="#6E6E6E" stroke-linecap="round" stroke-linejoin="round" stroke-width="2.5" points="1652.5,992.5 1647.5,1002.5 1640,1010 1632.5,1007.5 1625,1012.5 1615,1017.5 1607.5,1022.5 1600,1027.5"/>
<polygon points="892.5,421.2 900,420 897.5,430 893.8,442.5 895,455 900,465 908.8,476.2 913.8,487.5 912.5,497.5 907.5,490 900,478.8 891.2,467.5 886.2,455 885,442.5 887.5,430.0"/>
<polygon points="910,490 912.5,497.5 900,502.5 885,507.5 872.5,512.5 865,513.8 867.5,507.5 880,502.5 895,497.5 902.5,492.5"/>
<polygon points="1447.5,885 1455,875 1462,872.5 1460,882.5 1452.5,895 1447.5,902.5 1445.5,895.0"/>
<polyline fill="none" stroke="#fff" stroke-linecap="round" stroke-linejoin="round" stroke-width="3.2" points="847.7,195.7 856.6,196.3 867.6,194.3 878.6,187.7 889.7,176.7"/>
<polyline fill="none" stroke="#fff" stroke-linecap="round" stroke-linejoin="round" stroke-width="2" points="889.7,176.7 897.9,170.9 904,167.0"/>
<polyline fill="none" stroke="#fff" stroke-linecap="round" stroke-linejoin="round" stroke-width="2.4" points="868.1,195.7 875.9,206.2 883.6,215 891.3,217.2"/>
<polyline fill="none" stroke="#fff" stroke-linecap="round" stroke-linejoin="round" stroke-width="1.8" points="887.4,178.6 889.7,163.4 892.4,153.2"/>
<polyline fill="none" stroke="#fff" stroke-linecap="round" stroke-linejoin="round" stroke-width="1.8" points="829,181.4 840,177.2 846.9,171.7 852.4,166.2"/>
<polyline fill="none" stroke="#fff" stroke-linecap="round" stroke-linejoin="round" stroke-width="2.2" points="842.8,190.2 847.7,178.6"/>
<polyline fill="none" stroke="#fff" stroke-linecap="round" stroke-linejoin="round" stroke-width="1.8" points="864.3,245.4 873.1,243.7 884.1,242.1 885.5,250.3"/>
<polyline fill="none" stroke="#fff" stroke-linecap="round" stroke-linejoin="round" stroke-width="1.8" points="855.2,289.5 867.6,292.3 878.6,295 884.7,283.4 886.9,273.0"/>
<polyline fill="none" stroke="#fff" stroke-linecap="round" stroke-linejoin="round" stroke-width="3" points="933.8,413.8 940,425 947.5,433.8 957.5,439.5 970,439.5 981.2,433.8"/>
<polyline fill="none" stroke="#fff" stroke-linecap="round" stroke-linejoin="round" stroke-width="2.4" points="650,593.8 647.5,606.2 646,616.2"/>
<polyline fill="none" stroke="#fff" stroke-linecap="round" stroke-linejoin="round" stroke-width="3" points="203.8,1055 210,1072.5 217.5,1087.5 225,1100 231.2,1111.2"/>
<polyline fill="none" stroke="#fff" stroke-linecap="round" stroke-linejoin="round" stroke-width="2" points="171.2,1012 182.5,1023.8 192.5,1037.5 203.8,1055.0"/>
<polyline fill="none" stroke="#fff" stroke-linecap="round" stroke-linejoin="round" stroke-width="2.2" points="1346.6,1176.4 1343.9,1182.7"/>
<polyline fill="none" stroke="#fff" stroke-linecap="round" stroke-linejoin="round" stroke-width="1.4" points="1343.9,1182.7 1340.3,1189.4 1336.9,1194.4"/>
<polyline fill="none" stroke="#fff" stroke-linecap="round" stroke-linejoin="round" stroke-width="1.6" points="1313.4,1220.9 1308,1226.9"/>
<polyline fill="none" stroke="#fff" stroke-linecap="round" stroke-linejoin="round" stroke-width="2.6" points="818.5,164.3 824.8,173.1 831.7,182.8 840,189.7 848.3,197.9 852.4,209 856.6,218.6 863.4,228.3 869,237.9 864.8,246.2 857.9,253.1 855.2,261.4 853.8,272.4 851,284.0"/>
</g>
<g id="bord" fill="none" stroke-linejoin="round">
<polyline stroke="#6E6E6E" stroke-width="1.1" points="153.8,658.8 225,705 301.2,753.8 360,778.8 415,802.5 465,817.5 525,833.8 600,850 650,860 700,869 760,871 812.5,870.5"/>
<polyline stroke="#6E6E6E" stroke-width="1.1" points="355,452.5 346.2,457.5 335,470 325,482.5 318.8,492.5 320,500 340,512.5 337.5,525 332.5,535 326.2,542.5 335,550 331.2,560 325,570 322.5,577.5 326.2,582.5 320,590 318.8,600 322.5,607.5 326.2,620 327.5,632.0"/>
<polyline stroke="#6E6E6E" stroke-width="1.1" points="327.5,600 330,615 328.8,630 323.8,645 322.5,660 318.8,675 320,682.5 326.2,686.2 327.5,700 330,712.5 333.8,722.5 328.8,730 332.5,736.2 340,738.8 350,743.8 360,747.5 362.5,760 360,772.5 361.2,778.8"/>
<polyline stroke="#6E6E6E" stroke-width="1.1" points="346.2,540 352.5,536.2 375,541.2 387.5,520 412.5,530 450,545 475,555 500,566.2"/>
<polyline stroke="#6E6E6E" stroke-width="1.1" points="352.5,536.2 347.5,557.5 351.2,567.5 340,585 330,610 326.2,632.0"/>
<polyline stroke="#6E6E6E" stroke-width="1.1" points="320,682.5 340,681.2 362.5,677.5 370,667.5 385,662.5 405,660 425,665 445,672.5 461.2,678.8 450,717.5 510,776.2 465,817.5"/>
<polyline stroke="#6E6E6E" stroke-width="1.1" points="510,776.2 537.5,772.5 562.5,762.5 575,753.8 590,755 625,762.5 662.5,772.5 705,785.0"/>
<polyline stroke="#6E6E6E" stroke-width="1.1" points="461.2,678.8 465,672.5 480,653.8 485,647.5 500,646.2 512.5,627.5 522.5,616.2 535,612.5"/>
<polyline stroke="#6E6E6E" stroke-width="1.1" points="470,710 475,702.5 487.5,698.8 490,682.5 487.5,667.5 495,657.5 500,670 497.5,682.5 510,687.5 522.5,678.8 527.5,682.5 525,697.5 537.5,698.8 552.5,692.5 562.5,690 567.5,695 562.5,702.5 547.5,705 535,710 525,725 515,732.5 505,738.8 500,735 497.5,725 485,720 472.5,717.5 470,710.0"/>
<polyline stroke="#6E6E6E" stroke-width="1.1" points="196.2,765 225,778.8 242.5,753.8 271.2,770 260,795 250,812.5 243.8,830 247.5,840 250,847.5 240,852.5 235,860.0"/>
<polyline stroke="#6E6E6E" stroke-width="1.1" points="415,802.5 403.8,840.0"/>
<polyline stroke="#6E6E6E" stroke-width="1.1" points="403.8,840 395,860 387.5,885 380,907.5 373.8,921.2 360,957.5 350,983.8 352.5,1003.8 362.5,1015 372.5,1045 387.5,1075 400,1112.0"/>
<polyline stroke="#6E6E6E" stroke-width="1.1" points="387.5,1060 392.5,1080 405,1105 410,1125 407.5,1142.5 405,1157.5 412.5,1170.0"/>
<polyline stroke="#6E6E6E" stroke-width="1.1" points="570,843.8 538.8,986 510,1087.5 497.5,1190.0"/>
<polyline stroke="#6E6E6E" stroke-width="1.1" points="697.5,867.5 685,1097.5 678,1221.0"/>
<polyline stroke="#6E6E6E" stroke-width="1.1" points="810,1223.8 811.2,1100 825,1082.5 860,1040.0"/>
<polyline stroke="#6E6E6E" stroke-width="1.1" points="872.5,1023.8 915,966.2"/>
<polyline stroke="#6E6E6E" stroke-width="1.1" points="1125,1107.5 1145,1180 1150,1215 1157.5,1237.5 1175,1260 1200,1275 1225,1290.0"/>
<polyline stroke="#6E6E6E" stroke-width="1.1" points="897.5,1155 912.5,1150 932.5,1137.5 940,1135 950,1136.2 965,1141.2 982.5,1132.5 985,1122.5 1000,1120 1022.5,1135 1037.5,1125 1055,1102.5 1070,1090 1075,1087.5"/>
<polyline stroke="#6E6E6E" stroke-width="1.1" points="898.8,1155 902.5,1250.0"/>
<polyline stroke="#6E6E6E" stroke-width="1.1" points="982.5,1132.5 988.8,1178.8 1018.8,1183.8 1025,1240.0"/>
<polyline stroke="#6E6E6E" stroke-width="1.1" points="700,1093.8 765,1093.8 765.5,1082.5 825,1082.5"/>
<polyline stroke="#6E6E6E" stroke-width="1.1" points="1125,1107.5 1145,1180.0"/>
<polyline stroke="#6E6E6E" stroke-width="1.1" points="1303.8,918.8 1262.5,936.2 1288.8,1011.2 1350,1172.0"/>
<polyline stroke="#6E6E6E" stroke-width="1.1" points="1247.5,1150 1145,1180.0"/>
<polyline stroke="#6E6E6E" stroke-width="1.1" points="1410,972.5 1525,906.2 1535,920.0"/>
<polyline stroke="#6E6E6E" stroke-width="1.1" points="1382.5,991.2 1393.8,957.5 1398.8,948.8 1406.2,950 1400,960 1403.8,965 1410,972.5"/>
<polyline stroke="#6E6E6E" stroke-width="1.1" points="1382.5,991.2 1390,1000 1395,1012.5 1400,1025 1403.8,1036.2"/>
<polyline stroke="#6E6E6E" stroke-width="1.1" points="1262,735 1275,760 1280,770 1290,780 1300,790 1310,802.5 1320,812.5 1327.5,822.5 1332.5,835 1337.5,850 1347.5,860 1355,867.5 1362.5,877.5 1367.5,887.5 1365,895 1357.5,900 1345,903.8 1335,910 1325,912.5 1315,907.5 1307.5,917.5 1318.8,923.8 1312.5,935 1308.8,942.5 1312.5,955 1322.5,963.8 1335,962.5 1336,972.5 1332.5,975 1343.8,980 1355,985 1362.5,991 1372.5,987.5 1382.5,991.0"/>
<polyline stroke="#6E6E6E" stroke-width="1.1" points="1360,860 1382.5,840 1395,841.2 1397.5,857.5 1390,875 1400,867.5 1415,877.5 1435,872.5 1442.5,875 1446.2,886.2"/>
<polyline stroke="#c9ccd6" stroke-width="1.1" points="672.5,717.5 680,638.8 775,646.2 850,643.8 930,637.0"/>
<polyline stroke="#6E6E6E" stroke-width="1.1" points="562.5,516.2 610,524.5 641.2,531.2 653.8,443.8"/>
<polyline stroke="#6E6E6E" stroke-width="1.1" points="516.2,515 500,566.2 530,600 547.5,627.5 575,667.5 615,700 667.5,717.5 710,735 708.8,760 705,785 700,850 698,872.0"/>
<polyline stroke="#6E6E6E" stroke-width="1.1" points="872.5,570 880,640 930,637.0"/>
<polyline stroke="#6E6E6E" stroke-width="1.1" points="740,986.2 811.2,987.5 812.5,1024.5 872.5,1023.8"/>
<polyline stroke="#6E6E6E" stroke-width="1.1" points="685,1005 744,1007.0"/>
<polyline stroke="#6E6E6E" stroke-width="1.1" points="738.8,987.5 736.2,1070 744,1068.8"/>
<polyline stroke="#6E6E6E" stroke-width="1.1" points="737.5,1040 737.5,1070 750,1067.5 760,1077.5 765,1093.8"/>
<polyline stroke="#6E6E6E" stroke-width="1.1" points="570,842.5 565,865 560,890 552.5,922.5 545,955 538.8,985.0"/>
<polyline stroke="#6E6E6E" stroke-width="1.1" points="505,840 497.5,865 492.5,890 488.8,910 505,917.5 502.5,940 497.5,963.8"/>
</g>
<g id="legend">
<rect x="1291.5" y="315.6" width="75" height="76.1" fill="#00F5F0" stroke="#5a7f86" stroke-width="1"/>
<text class="lg" x="1391.5" y="370.0" font-size="48" textLength="86.6" lengthAdjust="spacingAndGlyphs">0-30</text>
<rect x="1291.5" y="391.7" width="75" height="76.1" fill="#3B7DF5" stroke="#5a7f86" stroke-width="1"/>
<text class="lg" x="1391.5" y="446.1" font-size="48" textLength="110.6" lengthAdjust="spacingAndGlyphs">31-34</text>
<rect x="1291.5" y="467.8" width="75" height="76.1" fill="#0000F0" stroke="#5a7f86" stroke-width="1"/>
<text class="lg" x="1391.5" y="522.2" font-size="48" textLength="110.6" lengthAdjust="spacingAndGlyphs">35-38</text>
<rect x="1291.5" y="543.9" width="75" height="76.1" fill="#8F00F5" stroke="#5a7f86" stroke-width="1"/>
<text class="lg" x="1391.5" y="598.3" font-size="48" textLength="110.6" lengthAdjust="spacingAndGlyphs">39-42</text>
<rect x="1291.5" y="620.0" width="75" height="76.1" fill="#F500F0" stroke="#5a7f86" stroke-width="1"/>
<text class="lg" x="1391.5" y="674.4" font-size="48" textLength="110.6" lengthAdjust="spacingAndGlyphs">43-55</text>
<text class="lg" x="1374.8" y="292.3" font-size="51.5" textLength="36" lengthAdjust="spacingAndGlyphs">O</text><text class="lg" x="1410" y="303" font-size="31">3</text><text class="lg" x="1435.2" y="292.3" font-size="51" textLength="120.5" lengthAdjust="spacingAndGlyphs">(ppb)</text>
</g>
<g id="sbar">
<path d="M303.9,1321.5V1339.4H885.7V1321.5" fill="none" stroke="#000" stroke-width="2.8"/>
<path d="M376.6,1326.8V1339.4" stroke="#000" stroke-width="2.8"/>
<path d="M449.3,1326.8V1339.4" stroke="#000" stroke-width="2.8"/>
<path d="M522.1,1326.8V1339.4" stroke="#000" stroke-width="2.8"/>
<path d="M594.8,1321.5V1339.4" stroke="#000" stroke-width="2.8"/>
<path d="M667.5,1326.8V1339.4" stroke="#000" stroke-width="2.8"/>
<path d="M740.2,1326.8V1339.4" stroke="#000" stroke-width="2.8"/>
<path d="M813.0,1326.8V1339.4" stroke="#000" stroke-width="2.8"/>
<text class="sc" x="302.5" y="1309.6">0</text><text class="sc" x="448" y="1309.6">500</text><text class="sc" x="595.5" y="1309.6">1,000</text><text class="sc" x="885.8" y="1309.6">2,000</text><text class="sc" x="925.6" y="1309.6" style="text-anchor:start">km</text>
</g>
</defs>
<rect width="3580" height="1512" fill="#fff"/>
<g>
<use href="#land" fill="#3B7DF5" stroke="#6E6E6E" stroke-width="2.6" stroke-linejoin="round"/>
<g clip-path="url(#lc)">
<rect x="100" y="60" width="1650" height="1430" fill="#3B7DF5"/>
<polygon fill="#0000F0" stroke="#0000F0" stroke-width="2" stroke-linejoin="round" points="516.2,515 562.5,516.2 610,524.5 641.2,531.2 647,490 653.8,443.8 655,425 700,414 751.2,443.8 816.2,480 858,503 866,540 872.5,570 880,640 930,637 947,655 962,672 985,690 1010,700 1025,715 1020,740 1012,770 1000,800 900,860 830,871 812,870.5 698,872 700,850 705,785 708.8,760 710,735 667.5,717.5 615,700 575,667.5 547.5,627.5 530,600 500,566.2"/>
<polygon fill="#0000F0" stroke="#0000F0" stroke-width="2" stroke-linejoin="round" points="1262,735 1275,760 1280,770 1290,780 1300,790 1310,802.5 1320,812.5 1327.5,822.5 1332.5,835 1337.5,850 1347.5,860 1355,867.5 1362.5,877.5 1367.5,887.5 1365,895 1357.5,900 1345,903.8 1335,910 1325,912.5 1315,907.5 1307.5,917.5 1318.8,923.8 1312.5,935 1308.8,942.5 1312.5,955 1322.5,963.8 1335,962.5 1336,972.5 1332.5,975 1343.8,980 1355,985 1362.5,991 1372.5,987.5 1382.5,991 1390,1000 1395,1012.5 1400,1025 1403.8,1036 1420,1050 1500,1053 1560,1070 1720,1070 1720,880 1560,860 1400,800 1280,725.0"/>
<polygon fill="#3B7DF5" stroke="#3B7DF5" stroke-width="2" stroke-linejoin="round" points="1557.5,953.8 1567.5,951.2 1572.5,965 1580,975 1583.8,987.5 1575,1000 1565,1005 1557.5,1000 1553.8,987.5 1556.2,972.5 1555,962.5"/>
<polygon fill="#00F5F0" stroke="#00F5F0" stroke-width="2" stroke-linejoin="round" points="697.5,871 812,870.5 835,875 870,950 915,960 915,966.2 872.5,1023.8 812.5,1024.5 811.2,987.5 740,986.2 737.5,1040 737.5,1070 750,1067.5 760,1077.5 765,1093.8 685.5,1097.5"/>
<polygon fill="#00F5F0" stroke="#00F5F0" stroke-width="2" stroke-linejoin="round" points="153.8,658.8 175,672.5 200,688.8 225,705 250,721.2 275,737.5 301.2,753.8 298.8,770 300,782.5 296.2,792.5 300,800 307.5,810 313.8,820 320,826.2 311.2,825 300,820 290,815 285,817.5 280,822.5 267.5,827.5 260,835 262.5,847.5 272.5,850 276.2,862.5 175,862.5 150,775 147.5,675.0"/>
<polygon fill="#00F5F0" stroke="#00F5F0" stroke-width="2" stroke-linejoin="round" points="185,840 260,840 263.8,848.8 272.5,851.2 275,865 278.8,875 287.5,880 297.5,888.8 275,877.5 255,870 236.2,863 243.8,880 247.5,892.5 240,900 227.5,892.5 220,910 210,920 210,940 205,957.5 195,955 185,950 182.5,915 183.8,890.0"/>
<polygon fill="#00F5F0" stroke="#00F5F0" stroke-width="2" stroke-linejoin="round" points="360,957.5 373.8,921.2 387.5,918.8 391.2,925 407.5,927.5 417.5,935 421.2,947.5 420,957.5 407.5,952.5 400,947.5 387.5,955 370,955.0"/>
<polygon fill="#00F5F0" stroke="#00F5F0" stroke-width="2" stroke-linejoin="round" points="505,840 570,842.5 565,865 560,890 552.5,922.5 545,955 538.8,985 517.5,985 515,967.5 497.5,963.8 502.5,940 505,917.5 488.8,910 492.5,890 497.5,865.0"/>
<polygon fill="#00F5F0" stroke="#00F5F0" stroke-width="2" stroke-linejoin="round" points="312.5,1097.5 325,1088.8 340,1085 346.2,1095 340,1105 333.8,1108.8 331.2,1116.2 322.5,1113.8 320,1103.8"/>
<polygon fill="#0000F0" stroke="#0000F0" stroke-width="2" stroke-linejoin="round" points="350,983.8 355,965 365,956.2 387.5,955 400,947.5 407.5,952.5 413.8,960 415,975 427.5,982.5 425,992.5 407.5,997.5 412.5,1002.5 425,1012.5 435,1020 430,1027.5 420,1027.5 417.5,1040 395,1038.8 385,1025 380,1010 372.5,1002.5 360,1000 350,995.0"/>
<polygon fill="#0000F0" stroke="#0000F0" stroke-width="2" stroke-linejoin="round" points="497.5,963.8 515,967.5 517.5,985 538.8,986.2 533.8,1030 525,1065 522.5,1092.5 515,1112 432.5,1112 433.8,1090 435,1057.5 442.5,1052.5 460,1060 465,1047.5 472.5,1037.5 475,1025 482.5,1015 490,1000 493.8,980.0"/>
<polygon fill="#8F00F5" stroke="#8F00F5" stroke-width="2" stroke-linejoin="round" points="410,997.5 425,992.5 442.5,993.8 445,986.2 455,987.5 460,1000 470,991.2 480,990 490,982.5 497.5,978.8 495,995 490,1005 482.5,1015 475,1025 460,1020 450,1026.2 435,1020 422.5,1010 412.5,1002.5"/>
<polygon fill="#0000F0" stroke="#0000F0" stroke-width="2" stroke-linejoin="round" points="593.8,1038.8 603.8,1038.8 602.5,1052.5 597.5,1065 587.5,1080 575,1092.5 562.5,1102.5 550,1095 555,1080 557.5,1065 567.5,1052.5 577.5,1047.5 592.5,1047.5"/>
<polygon fill="#0000F0" stroke="#0000F0" stroke-width="2" stroke-linejoin="round" points="232.5,1057.5 240,1050 255,1045 265,1052.5 272.5,1040 285,1040 295,1050 310,1051.2 320,1040 322.5,1025 330,1016.2 340,1025 350,1032.5 347.5,1047.5 340,1060 330,1065 320,1075 317.5,1087.5 307.5,1097.5 295,1100 285,1112 275,1102.5 262.5,1090 250,1080 240,1087.5 232.5,1092.5 227.5,1080 222.5,1065.0"/>
<polygon fill="#8F00F5" stroke="#8F00F5" stroke-width="2" stroke-linejoin="round" points="352.5,1003.8 362.5,1002.5 372.5,1007.5 380,1020 387.5,1037.5 400,1040 420,1042.5 432.5,1050 433.8,1090 445,1090 460,1092.5 475,1095 490,1090 505,1087.5 515,1095 515,1112 400,1112 387.5,1075 382.5,1065 372.5,1045 365,1030 362.5,1015.0"/>
<polygon fill="#8F00F5" stroke="#8F00F5" stroke-width="2" stroke-linejoin="round" points="387.5,1060 432.5,1060 435,1075 445,1082.5 470,1090 490,1091.2 497.5,1086.2 510,1087.5 512.5,1117.5 507.5,1135 502.5,1157.5 525,1163.8 550,1170 575,1172.5 597.5,1177.5 597.5,1210 550,1202.5 497.5,1190 470,1183.8 412.5,1170 405,1157.5 407.5,1142.5 410,1125 405,1105 392.5,1080.0"/>
<polygon fill="#F500F0" stroke="#F500F0" stroke-width="2" stroke-linejoin="round" points="460,1170 475,1160 480,1135 500,1137.5 506.2,1142.5 502.5,1157.5 497.5,1190 470,1183.8 467.5,1177.5"/>
<polygon fill="#0000F0" stroke="#0000F0" stroke-width="2" stroke-linejoin="round" points="260,1075 275,1060 335,1060 325,1075 317.5,1087.5 312.5,1097.5 300,1105 307.5,1110 310,1115 307.5,1132.5 275,1121.2 277.5,1105 272.5,1090.0"/>
<polygon fill="#0000F0" stroke="#0000F0" stroke-width="2" stroke-linejoin="round" points="331.2,1116.2 333.8,1108.8 346.2,1095 365,1090 372.5,1105 370,1122.5 365,1135 370,1156.2 343.8,1147.5 332.5,1132.5 337.5,1117.5"/>
<polygon fill="#0000F0" stroke="#0000F0" stroke-width="2" stroke-linejoin="round" points="210,1060 260,1060 260,1075 250,1077.5 242.5,1087.5 235,1095 225,1090 217.5,1075.0"/>
<polygon fill="#0000F0" stroke="#0000F0" stroke-width="2" stroke-linejoin="round" points="432.5,1060 525,1060 527.5,1067.5 545,1072.5 550,1082.5 565,1097.5 575,1097.5 590,1107.5 612.5,1110 612.5,1142.5 575,1137.5 570,1127.5 557.5,1120 542.5,1122.5 540,1120 512.5,1117.5 510,1087.5 497.5,1086.2 490,1091.2 470,1090 445,1082.5 435,1075.0"/>
<polygon fill="#0000F0" stroke="#0000F0" stroke-width="2" stroke-linejoin="round" points="553.8,1135 575,1137.5 595,1142.5 600,1175 575,1171.2 552.5,1168.8"/>
<polygon fill="#0000F0" stroke="#0000F0" stroke-width="2" stroke-linejoin="round" points="597.5,1178.8 642.5,1182.5 642.5,1152.5 677.5,1151.2 680,1137.5 687.5,1142.5 700,1160 710,1167.5 740,1170 744,1185 744,1225 720,1222.5 717.5,1207.5 675,1220 597.5,1210.0"/>
<polygon fill="#0000F0" stroke="#0000F0" stroke-width="2" stroke-linejoin="round" points="700,1167.5 710,1168.8 722.5,1171.2 737.5,1172.5 738.8,1190 740,1203.8 718.8,1205.5 718,1219.5 700,1218.8"/>
<polygon fill="#0000F0" stroke="#0000F0" stroke-width="2" stroke-linejoin="round" points="743,1205 766.2,1206.2 765.5,1222.5 745,1222.0"/>
<polygon fill="#0000F0" stroke="#0000F0" stroke-width="2" stroke-linejoin="round" points="781.2,1172.5 795,1175 810,1180 810,1223.8 776.2,1222.5 777.5,1216.2 786.2,1215 786.2,1195.0"/>
<polygon fill="#0000F0" stroke="#0000F0" stroke-width="2" stroke-linejoin="round" points="897.5,1155 912.5,1150 932.5,1137.5 940,1135 950,1136.2 965,1141.2 982.5,1132.5 985,1152.5 988.8,1178.8 1012.5,1176.2 1017.5,1185 1032.5,1182.5 1035,1190 1052.5,1187.5 1055,1193.8 1075,1191.2 1077.5,1212.5 1100,1210 1145,1200 1147.5,1180 1162.5,1176.2 1190,1170 1225,1157.5 1247.5,1152.5 1246.2,1135 1252.5,1112.5 1250,1102.5 1255,1087.5 1275,1065 1277.5,1040 1344,1040 1344,1312 907.5,1312 902.5,1242.5 900,1190.0"/>
<polygon fill="#0000F0" stroke="#0000F0" stroke-width="2" stroke-linejoin="round" points="822.5,1225 840,1223.8 850,1222.5 875,1221.2 900,1220 902.5,1250 895,1251.2 880,1247.5 872.5,1242.5 860,1237.5 850,1232.5 840,1237.5 822.5,1230.0"/>
<polygon fill="#8F00F5" stroke="#8F00F5" stroke-width="2" stroke-linejoin="round" points="1145,1282.5 1157.5,1275 1170,1267.5 1175,1275 1180,1287.5 1190,1292.5 1200,1300 1197.5,1312 1150,1312.0"/>
<polygon fill="#8F00F5" stroke="#8F00F5" stroke-width="2" stroke-linejoin="round" points="1075,1290 1125,1290 1125,1312 1075,1312.0"/>
<polygon fill="#0000F0" stroke="#0000F0" stroke-width="2" stroke-linejoin="round" points="1306.2,1043.8 1340,1025 1352.5,1040 1365,1070 1382.5,1087.5 1372.5,1102.5 1365,1117.5 1357.5,1132.5 1352.5,1150 1350,1172 1317.5,1172 1315,1150 1312.5,1125 1310,1100 1307.5,1075.0"/>
<polygon fill="#0000F0" stroke="#0000F0" stroke-width="2" stroke-linejoin="round" points="1288.8,1011.2 1300,1025 1305,1045 1307.5,1075 1310,1100 1312.5,1125 1315,1150 1317.5,1172 1245,1172 1243.8,1140 1250,1112.5 1262.5,1085 1272.5,1050 1275,1030.0"/>
<polygon fill="#0000F0" stroke="#0000F0" stroke-width="2" stroke-linejoin="round" points="1346.2,1178.8 1350,1161.5 1356.5,1141.2 1362.5,1125 1373.5,1107.5 1386.5,1091.2 1398.8,1079.5 1405,1075 1417.5,1070 1432.5,1065 1447.5,1067.5 1452.5,1075 1455,1085 1450,1095 1442.5,1102.5 1432.5,1107.5 1422.5,1100 1417.5,1107.5 1407.5,1102.5 1400,1107.5 1392.5,1117.5 1385,1125 1395,1140 1407.5,1140 1415,1140 1425,1152.5 1427.5,1165 1412.5,1172.0"/>
<polygon fill="#00F5F0" stroke="#00F5F0" stroke-width="2" stroke-linejoin="round" points="1383.8,1136.2 1392.5,1127.5 1407.5,1120 1422.5,1112.5 1432.5,1112.5 1430,1122.5 1422.5,1130 1415,1138.8 1400,1138.8"/>
<polygon fill="#00F5F0" stroke="#00F5F0" stroke-width="2" stroke-linejoin="round" points="1456.2,1162.5 1457.5,1147.5 1462.5,1130 1467.5,1140 1472.5,1150 1467.5,1157.5"/>
<polygon fill="#0000F0" stroke="#0000F0" stroke-width="2" stroke-linejoin="round" points="1497.5,1150 1510,1146.2 1525,1140 1540,1135 1550,1133.8 1545,1075 1587.5,1075 1587.5,1150 1525,1172 1490,1172 1490,1160.0"/>
<polygon fill="#0000F0" stroke="#0000F0" stroke-width="2" stroke-linejoin="round" points="1475,1110 1535,1110 1535,1137.5 1475,1137.5"/>
<polygon fill="#0000F0" stroke="#0000F0" stroke-width="2" stroke-linejoin="round" points="1145,1200 1147.5,1180 1162.5,1176.2 1190,1170 1225,1157.5 1247.5,1152.5 1375,1152.5 1375,1260 1300,1285 1200,1385 1100,1385 1100,1201.2"/>
<polygon fill="#8F00F5" stroke="#8F00F5" stroke-width="2" stroke-linejoin="round" points="1080.6,1285.6 1090,1285.6 1104.1,1283.3 1118.1,1279.4 1143.1,1281.7 1158.8,1273.1 1171.2,1270 1293.1,1270 1293.1,1441.9 1080.6,1441.9"/>
<polygon fill="#8F00F5" stroke="#8F00F5" stroke-width="2" stroke-linejoin="round" points="1285,1270 1272.5,1235 1262.5,1205 1255,1192.5 1275,1197.5 1285,1210 1297.5,1217.5 1305,1207.5 1312.5,1192.5 1310,1175 1307.5,1165 1317.5,1160 1340,1167.5 1345,1185 1352.5,1195 1365,1205 1368.8,1220 1365,1232.5 1355,1237.5 1352.5,1250 1300,1270.0"/>
<polygon fill="#0000F0" stroke="#0000F0" stroke-width="2" stroke-linejoin="round" points="1275,1197.5 1290,1190 1305,1185 1315,1182.5 1325,1192.5 1327.5,1205 1320,1215 1310,1222.5 1300,1225 1292.5,1217.5 1285,1210.0"/>
<polygon fill="#0000F0" stroke="#0000F0" stroke-width="2" stroke-linejoin="round" points="1286.2,1247.5 1295,1242.5 1302.5,1250 1297.5,1260 1288.8,1257.5"/>
<polygon fill="#F500F0" stroke="#F500F0" stroke-width="2" stroke-linejoin="round" points="1291.2,1237.5 1297.5,1235 1298.8,1241.2 1293,1243.0"/>
<polygon fill="#0000F0" stroke="#0000F0" stroke-width="2" stroke-linejoin="round" points="1166.6,1306.7 1171.2,1298.1 1177.5,1293.4 1183.8,1290.3 1196.2,1284.1 1202.5,1293.4 1208.8,1299.7 1199.4,1305.2 1191.6,1309.1 1185.3,1305.9 1182.2,1312.2 1174.4,1310.6"/>
<polygon fill="#0000F0" stroke="#0000F0" stroke-width="2" stroke-linejoin="round" points="1183.8,1290.3 1177.5,1277.8 1171.2,1270 1240,1270 1238.4,1279.4 1230.6,1285.6 1224.4,1290.3 1219.7,1287.2 1213.4,1284.1 1208.8,1287.2 1202.5,1293.4 1196.2,1284.1"/>
<polygon fill="#0000F0" stroke="#0000F0" stroke-width="2" stroke-linejoin="round" points="1180.6,1327.8 1186.9,1323.9 1193.1,1329.4 1199.4,1330.9 1206.4,1334.8 1199.4,1340.3 1191.6,1345 1187.7,1352.8 1185.3,1360.6 1183.8,1367.7 1179.1,1369.2 1172.8,1365.3 1174.4,1357.5 1171.2,1348.1 1177.5,1343.4 1180.6,1335.6"/>
<polygon fill="#F500F0" stroke="#F500F0" stroke-width="2" stroke-linejoin="round" points="1161.9,1337.2 1168.1,1334.8 1171.2,1341.9 1169.7,1348.1 1165,1349.7 1161.1,1343.4"/>
<polygon fill="#F500F0" stroke="#F500F0" stroke-width="2" stroke-linejoin="round" points="1133,1352.8 1140,1351.2 1147,1349.7 1147.8,1357.5 1144.7,1366.9 1140,1374.7 1136.1,1370 1134.5,1360.6"/>
<polygon fill="#F500F0" stroke="#F500F0" stroke-width="2" stroke-linejoin="round" points="1152.5,1373.1 1158.8,1368.4 1166.6,1366.9 1168.1,1373.1 1163.4,1379.4 1157.2,1382.5"/>
<polygon fill="#F500F0" stroke="#F500F0" stroke-width="2" stroke-linejoin="round" points="1123.6,1388.8 1129.1,1382.5 1134.5,1377.8 1136.9,1385.6 1138.4,1395 1130.6,1398.9 1123.6,1399.7"/>
<polygon fill="#F500F0" stroke="#F500F0" stroke-width="2" stroke-linejoin="round" points="1143.1,1393.4 1149.4,1387.2 1158.8,1382.5 1168.1,1376.2 1177.5,1371.6 1186.9,1370 1197.8,1360.6 1206.4,1371.6 1196.2,1374.7 1186.9,1377.8 1179.1,1382.5 1174.4,1387.2 1165,1390.3 1157.2,1391.1 1149.4,1395 1143.1,1399.7"/>
<polygon fill="#F500F0" stroke="#F500F0" stroke-width="2" stroke-linejoin="round" points="1111.1,1415.3 1115,1412.2 1123.6,1410.6 1127.5,1416.9 1123.6,1421.6 1116.6,1422.3 1111.9,1420.0"/>
<polygon fill="#F500F0" stroke="#F500F0" stroke-width="2" stroke-linejoin="round" points="1227.5,1324.7 1233.8,1321.6 1240,1323.1 1236.9,1328.6 1230.6,1329.4"/>
<polygon fill="#3B7DF5" stroke="#3B7DF5" stroke-width="2" stroke-linejoin="round" points="1125.2,1401.2 1130.6,1398.9 1138.4,1396.6 1141.6,1401.2 1136.9,1407.5 1132.2,1410.6 1127.5,1415.3 1125.6,1407.5"/>
<polygon fill="#3B7DF5" stroke="#3B7DF5" stroke-width="2" stroke-linejoin="round" points="1264.2,1279.4 1271.2,1273.1 1277.5,1270 1285.3,1270 1277.5,1276.2 1269.7,1285.6"/>
<polygon fill="#0000F0" stroke="#0000F0" stroke-width="2" stroke-linejoin="round" points="1445,1160 1490,1160 1482.5,1175 1475,1181.2 1467.5,1187.5 1460,1192.5 1455,1197.5 1450,1185 1447.5,1172.5"/>
<polygon fill="#8F00F5" stroke="#8F00F5" stroke-width="2" stroke-linejoin="round" points="1435,1202.5 1442.5,1195 1455,1190 1457.5,1207.5 1462.5,1215 1460,1218.8 1455,1212.5 1450,1206.2 1442.5,1207.5"/>
<polygon fill="#8F00F5" stroke="#8F00F5" stroke-width="2" stroke-linejoin="round" points="1497.5,1170 1502.5,1180 1500,1197.5 1510,1210 1512.5,1210 1510,1222.5 1505,1235 1500,1242.5 1492.5,1240 1485,1232.5 1480,1222.5 1478.8,1210 1482.5,1197.5 1487.5,1187.5 1492.5,1177.5"/>
<polygon fill="#0000F0" stroke="#0000F0" stroke-width="2" stroke-linejoin="round" points="1512.5,1160 1527.5,1160 1525,1175 1520,1190 1515,1185 1510,1170.0"/>
<polygon fill="#F500F0" stroke="#F500F0" stroke-width="2" stroke-linejoin="round" points="1486.2,1227.5 1493.8,1216.2 1498,1231.2 1490,1232.5"/>
<use href="#bord" opacity="0.62"/>
</g>
<use href="#water"/>
<use href="#legend"/>
<use href="#sbar"/>
</g>
<g transform="translate(1736.3,-12.4)">
<use href="#land" fill="#00F5F0" stroke="#6E6E6E" stroke-width="2.6" stroke-linejoin="round"/>
<g clip-path="url(#lc)">
<rect x="100" y="60" width="1650" height="1430" fill="#00F5F0"/>
<polygon fill="#3B7DF5" stroke="#3B7DF5" stroke-width="2" stroke-linejoin="round" points="516.2,515 562.5,516.2 610,524.5 641.2,531.2 647,490 653.8,443.8 655,425 700,414 751.2,443.8 816.2,480 858,503 866,540 872.5,570 880,640 930,637 947,655 962,672 985,690 1010,700 1025,715 1020,740 1012,770 1000,800 900,860 830,871 812,870.5 698,872 700,850 705,785 708.8,760 710,735 667.5,717.5 615,700 575,667.5 547.5,627.5 530,600 500,566.2"/>
<polygon fill="#3B7DF5" stroke="#3B7DF5" stroke-width="2" stroke-linejoin="round" points="918,962 872.5,1023.8 825,1082.5 765.5,1082.5 765,1093.8 744,1092.5 685,1097.5 682.5,1110 625,1108.8 615,1112.5 615,1135 600,1142.5 645,1142.5 645,1148.8 680,1150 680,1168.8 722.5,1170 722.5,1182.5 727.5,1185 727.5,1206.2 721.2,1207.5 720,1222.5 744,1230 760,1235 1000,1330 1100,1450 1600,1450 1590,1175 1590,1072.5 1540,1072.5 1500,1070 1455,1060 1430,1052.5 1410,1060 1395,1075 1383.8,1088.8 1382.5,1087.5 1365,1070 1352.5,1040 1340,1023.8 1305,1040 1297.5,1032.5 1288.8,1011.2 1277.5,1030 1280,1050 1272.5,1050 1262.5,1085 1250,1112.5 1243.8,1140 1247.5,1150 1145,1180 1125,1107.5 1122.5,1102.5 1112.5,1077.5 1100,1052.5 1090,1040 1080,1020 1060,1000 1000,990 920,962.0"/>
<polygon fill="#3B7DF5" stroke="#3B7DF5" stroke-width="2" stroke-linejoin="round" points="1572.5,945 1587.5,930 1700,925 1700,1012.5 1562.5,1055 1555,1020 1557.5,1010 1565,1005 1575,1000 1583.8,987.5 1582.5,977.5 1575,965.0"/>
<polygon fill="#3B7DF5" stroke="#3B7DF5" stroke-width="2" stroke-linejoin="round" points="260,840 403.8,840 395,860 387.5,885 380,907.5 373.8,921.2 360,957.5 350,983.8 347.5,980 340,965 332.5,950 325,932.5 317.5,912.5 310,898.8 302.5,907.5 300,890 297.5,888.8 287.5,880 278.8,875 275,865 272.5,851.2 263.8,848.8"/>
<polygon fill="#3B7DF5" stroke="#3B7DF5" stroke-width="2" stroke-linejoin="round" points="360,957.5 370,955 387.5,955 400,947.5 407.5,952.5 413.8,960 415,975 427.5,982.5 425,992.5 410,997.5 395,996.2 382.5,1000 365,990 350,983.8"/>
<polygon fill="#3B7DF5" stroke="#3B7DF5" stroke-width="2" stroke-linejoin="round" points="220,962.5 240,970 255,960 265,962.5 282.5,972.5 285,978.8 300,987.5 307.5,982.5 317.5,987.5 325,992.5 332.5,1010 330,1016.2 322.5,1025 320,1040 310,1051.2 295,1050 285,1040 272.5,1040 265,1052.5 255,1045 240,1050 232.5,1057.5 222.5,1065 217.5,1052.5 225,1035 222.5,1015 225,1000 230,987.5 220,975.0"/>
<polygon fill="#3B7DF5" stroke="#3B7DF5" stroke-width="2" stroke-linejoin="round" points="150,1030 175,1015 195,1030 210,1040 220,1052.5 222.5,1065 235,1080 240,1112 240,1165 150,1165.0"/>
<polygon fill="#3B7DF5" stroke="#3B7DF5" stroke-width="2" stroke-linejoin="round" points="535,1015 562.5,1018.8 575,1040 567.5,1052.5 557.5,1065 555,1077.5 530,1080 525,1065 530,1040.0"/>
<polygon fill="#3B7DF5" stroke="#3B7DF5" stroke-width="2" stroke-linejoin="round" points="700,840 744,840 744,875 697.5,866.2"/>
<polygon fill="#0000F0" stroke="#0000F0" stroke-width="2" stroke-linejoin="round" points="307.5,898.8 315,907.5 317.5,912.5 325,932.5 332.5,950 340,965 347.5,980 350,990 355,1000 362.5,1015 365,1030 362.5,1040 352.5,1042.5 345,1030 332.5,1010 325,992.5 317.5,987.5 307.5,982.5 300,987.5 285,978.8 290,965 287.5,945 292.5,927.5 300,925 305,915 302.5,907.5"/>
<polygon fill="#0000F0" stroke="#0000F0" stroke-width="2" stroke-linejoin="round" points="350,990 365,990 382.5,1000 395,996.2 410,997.5 422.5,1010 435,1020 430,1027.5 420,1027.5 417.5,1040 395,1038.8 385,1050 377.5,1060 372.5,1052.5 365,1040 365,1030 362.5,1015 355,1000.0"/>
<polygon fill="#0000F0" stroke="#0000F0" stroke-width="2" stroke-linejoin="round" points="497.5,963.8 515,967.5 517.5,985 538.8,986.2 536.2,1015 530,1037.5 510,1037.5 490,1025 482.5,1015 490,1000 493.8,980.0"/>
<polygon fill="#0000F0" stroke="#0000F0" stroke-width="2" stroke-linejoin="round" points="352.5,1042.5 362.5,1040 372.5,1052.5 377.5,1060 382.5,1072.5 387.5,1090 382.5,1095 375,1112 320,1112 317.5,1100 325,1072.5 335,1065 345,1060.0"/>
<polygon fill="#0000F0" stroke="#0000F0" stroke-width="2" stroke-linejoin="round" points="593.8,1038.8 603.8,1038.8 605,1052.5 625,1051.2 625,1112 522.5,1112 525,1070 545,1070 550,1095 557.5,1080 562.5,1060 575,1052.5 592.5,1047.5"/>
<polygon fill="#0000F0" stroke="#0000F0" stroke-width="2" stroke-linejoin="round" points="247.5,1080 260,1077.5 275,1090 280,1102.5 275,1112 240,1112 242.5,1092.5"/>
<polygon fill="#0000F0" stroke="#0000F0" stroke-width="2" stroke-linejoin="round" points="217.5,1052.5 230,1045 238.8,1050 232.5,1057.5 225,1065 217.5,1062.5"/>
<polygon fill="#8F00F5" stroke="#8F00F5" stroke-width="2" stroke-linejoin="round" points="322.5,1025 330,1016.2 340,1025 350,1032.5 352.5,1042.5 345,1060 335,1065 325,1072.5 317.5,1100 312.5,1112 280,1112 280,1102.5 275,1090 260,1077.5 247.5,1080 235,1075 232.5,1057.5 240,1050 255,1045 265,1052.5 272.5,1040 285,1040 295,1050 310,1051.2 320,1040.0"/>
<polygon fill="#8F00F5" stroke="#8F00F5" stroke-width="2" stroke-linejoin="round" points="410,997.5 425,992.5 442.5,993.8 445,986.2 455,987.5 460,1000 470,991.2 480,990 490,982.5 497.5,978.8 493.8,995 490,1000 482.5,1015 490,1025 510,1037.5 530,1037.5 525,1070 522.5,1112 470,1112 470,1090 462.5,1080 462.5,1060 435,1052.5 427.5,1040 420,1027.5 430,1027.5 435,1020 422.5,1010.0"/>
<polygon fill="#F500F0" stroke="#F500F0" stroke-width="2" stroke-linejoin="round" points="385,1050 395,1038.8 417.5,1040 427.5,1040 435,1052.5 462.5,1060 462.5,1080 470,1090 470,1112 422.5,1112 420,1090 417.5,1080 400,1075 392.5,1062.5"/>
<polygon fill="#00F5F0" stroke="#00F5F0" stroke-width="2" stroke-linejoin="round" points="622.5,1060 744,1060 744,1092.5 685,1097.5 682.5,1110 625,1108.8"/>
<polygon fill="#0000F0" stroke="#0000F0" stroke-width="2" stroke-linejoin="round" points="210,1060 230,1060 250,1075 260,1085 275,1092.5 277.5,1105 292.5,1102.5 312.5,1097.5 317.5,1087.5 325,1075 335,1060 390,1060 395,1072.5 402.5,1075 417.5,1082.5 422.5,1095 420,1115 415,1132.5 422.5,1137.5 420,1145 412.5,1150 410,1135 407.5,1117.5 400,1097.5 390,1087.5 375,1100 372.5,1107.5 370,1120 365,1132.5 370,1142.5 372.5,1156.2 372.5,1172.5 230,1125 210,1100.0"/>
<polygon fill="#3B7DF5" stroke="#3B7DF5" stroke-width="2" stroke-linejoin="round" points="375,1100 390,1087.5 400,1097.5 407.5,1117.5 410,1135 407.5,1155 412.5,1170 372.5,1156.2 370,1142.5 365,1132.5 370,1120 372.5,1107.5"/>
<polygon fill="#0000F0" stroke="#0000F0" stroke-width="2" stroke-linejoin="round" points="522.5,1070 537.5,1067.5 547.5,1075 552.5,1085 562.5,1072.5 560,1060 625,1060 625,1108.8 615,1112.5 587.5,1100 572.5,1097.5 580,1115 575,1130 557.5,1127.5 557.5,1160 542.5,1167.5 527.5,1162.5 525,1155 512.5,1160 503,1156.2 507,1137.5 510.5,1120 517.5,1092.5"/>
<polygon fill="#3B7DF5" stroke="#3B7DF5" stroke-width="2" stroke-linejoin="round" points="525,1060 560,1060 562.5,1072.5 552.5,1085 547.5,1075 537.5,1067.5 522.5,1070.0"/>
<polygon fill="#0000F0" stroke="#0000F0" stroke-width="2" stroke-linejoin="round" points="600,1141.5 645.5,1141.5 642.5,1182.5 602.5,1175.0"/>
<polygon fill="#0000F0" stroke="#0000F0" stroke-width="2" stroke-linejoin="round" points="645,1148.8 680,1150 680,1168.8 722.5,1170 722.5,1182.5 727.5,1185 727.5,1206.2 721.2,1207.5 720,1222.5 675,1220 642.5,1215 642.5,1182.5"/>
<polygon fill="#8F00F5" stroke="#8F00F5" stroke-width="2" stroke-linejoin="round" points="230,1060 335,1060 325,1075 317.5,1087.5 312.5,1097.5 302.5,1107.5 292.5,1102.5 277.5,1105 275,1092.5 260,1085 250,1075.0"/>
<polygon fill="#8F00F5" stroke="#8F00F5" stroke-width="2" stroke-linejoin="round" points="302.5,1107.5 312.5,1097.5 320,1103.8 325,1110 312.5,1113.8"/>
<polygon fill="#8F00F5" stroke="#8F00F5" stroke-width="2" stroke-linejoin="round" points="415,1132.5 422.5,1137.5 435,1150 442.5,1165 447.5,1177.5 412.5,1170 407.5,1155 412.5,1150 420,1145.0"/>
<polygon fill="#8F00F5" stroke="#8F00F5" stroke-width="2" stroke-linejoin="round" points="462.5,1070 475,1060 525,1060 522.5,1070 517.5,1092.5 512.5,1120 510,1135 485,1132.5 470,1110 472.5,1095 460,1085.0"/>
<polygon fill="#8F00F5" stroke="#8F00F5" stroke-width="2" stroke-linejoin="round" points="500,1160 507.5,1155 512.5,1160 525,1155 527.5,1162.5 542.5,1167.5 557.5,1160 557.5,1127.5 575,1130 580,1115 572.5,1097.5 587.5,1100 615,1112.5 615,1135 600,1143.8 602.5,1175 642.5,1182.5 642.5,1215 597.5,1210 550,1202.5 497.5,1190.0"/>
<polygon fill="#8F00F5" stroke="#8F00F5" stroke-width="2" stroke-linejoin="round" points="195,1097.5 207.5,1095 217.5,1107.5 210,1113.8 200,1110.0"/>
<polygon fill="#F500F0" stroke="#F500F0" stroke-width="2" stroke-linejoin="round" points="390,1060 475,1060 462.5,1070 460,1085 472.5,1095 470,1110 485,1132.5 506.2,1140 502.5,1157.5 497.5,1190 470,1183.8 447.5,1177.5 442.5,1165 435,1150 422.5,1137.5 415,1132.5 420,1115 422.5,1095 417.5,1082.5 402.5,1075 395,1072.5"/>
<polygon fill="#0000F0" stroke="#0000F0" stroke-width="2" stroke-linejoin="round" points="700,1167.5 710,1168.8 722.5,1171.2 723.8,1182.5 727.5,1190 726.2,1203.8 718.8,1205.5 718,1219.5 700,1218.8"/>
<polygon fill="#0000F0" stroke="#0000F0" stroke-width="2" stroke-linejoin="round" points="745,1203.8 766.2,1206.2 765.5,1222.5 746.2,1222.0"/>
<polygon fill="#0000F0" stroke="#0000F0" stroke-width="2" stroke-linejoin="round" points="1018.8,1183.8 1033.8,1182 1035,1190 1052.5,1187.5 1055,1193.8 1075,1191.2 1077.5,1212.5 1052.5,1217.5 1057.5,1255 1090,1252.5 1092.5,1260 1105,1260 1107.5,1280 1090,1287.5 1075,1292.5 1065,1290 1060,1286.2 1055,1280 1047.5,1272.5 1045,1262.5 1036.2,1257.5 1035,1247.5 1030,1238.8 1025,1240.0"/>
<polygon fill="#0000F0" stroke="#0000F0" stroke-width="2" stroke-linejoin="round" points="1150,1200 1157.5,1192.5 1172.5,1200 1175,1212.5 1190,1215 1197.5,1212.5 1200,1225 1215,1230 1217.5,1220 1227.5,1215 1222.5,1205 1232.5,1195 1240,1200 1237.5,1212.5 1232.5,1220 1235,1235 1242.5,1237.5 1245,1255 1257.5,1255 1267.5,1240 1282.5,1247.5 1275,1257.5 1260,1265 1252.5,1275 1245,1287.5 1225,1290 1215,1277.5 1200,1265 1187.5,1260 1175,1252.5 1162.5,1240 1155,1220.0"/>
<polygon fill="#0000F0" stroke="#0000F0" stroke-width="2" stroke-linejoin="round" points="1277.5,1040 1305,1040 1320,1077.5 1325,1085 1344,1090 1344,1152.5 1335,1160 1320,1165 1310,1172.5 1305,1160 1300,1127.5 1292.5,1090 1282.5,1060.0"/>
<polygon fill="#0000F0" stroke="#0000F0" stroke-width="2" stroke-linejoin="round" points="1275,1195 1287.5,1190 1300,1180 1312.5,1175 1325,1182.5 1335,1190 1340,1202.5 1325,1212.5 1312.5,1215 1300,1220 1287.5,1215 1280,1205.0"/>
<polygon fill="#0000F0" stroke="#0000F0" stroke-width="2" stroke-linejoin="round" points="1187.5,1297.5 1197.5,1290 1207.5,1300 1200,1312 1190,1312.0"/>
<polygon fill="#8F00F5" stroke="#8F00F5" stroke-width="2" stroke-linejoin="round" points="1052.5,1217.5 1077.5,1212.5 1097.5,1211.2 1100,1220 1117.5,1217.5 1120,1237.5 1125,1242.5 1140,1240 1150,1237.5 1162.5,1240 1175,1252.5 1187.5,1260 1200,1265 1215,1277.5 1225,1290 1245,1287.5 1252.5,1275 1260,1265 1275,1257.5 1282.5,1247.5 1287.5,1240 1300,1230 1312.5,1215 1325,1212.5 1340,1202.5 1344,1200 1344,1312 1140,1312 1140,1290 1122.5,1295 1110,1292.5 1107.5,1280 1105,1260 1092.5,1260 1090,1252.5 1057.5,1255.0"/>
<polygon fill="#8F00F5" stroke="#8F00F5" stroke-width="2" stroke-linejoin="round" points="1257.5,1190 1265,1190 1275,1195 1287.5,1190 1300,1180 1312.5,1175 1310,1172.5 1320,1165 1335,1160 1344,1152.5 1344,1200 1340,1202.5 1335,1190 1325,1182.5 1312.5,1175 1300,1180 1287.5,1190 1280,1205 1270,1202.5"/>
<polygon fill="#F500F0" stroke="#F500F0" stroke-width="2" stroke-linejoin="round" points="1075,1290 1125,1290 1125,1312 1075,1312.0"/>
<polygon fill="#F500F0" stroke="#F500F0" stroke-width="2" stroke-linejoin="round" points="1207.5,1290 1215,1285 1225,1290 1245,1287.5 1262.5,1312 1200,1312.0"/>
<polygon fill="#0000F0" stroke="#0000F0" stroke-width="2" stroke-linejoin="round" points="1150,1200 1157.5,1191.2 1172.5,1197.5 1177.5,1212.5 1195,1210 1195,1225 1210,1222.5 1217.5,1217.5 1220,1205 1230,1195 1240,1200 1235,1210 1235,1225 1245,1240 1250,1255 1240,1265 1237.5,1277.5 1225,1287.5 1212.5,1282.5 1207.5,1265 1190,1260 1175,1247.5 1160,1240 1153.8,1222.5"/>
<polygon fill="#0000F0" stroke="#0000F0" stroke-width="2" stroke-linejoin="round" points="1275,1192.5 1290,1190 1305,1185 1307.5,1175 1320,1182.5 1335,1175 1340,1192.5 1330,1200 1322.5,1210 1312.5,1222.5 1300,1220 1295,1212.5 1285,1207.5"/>
<polygon fill="#0000F0" stroke="#0000F0" stroke-width="2" stroke-linejoin="round" points="1347.5,1160 1368.8,1160 1365,1175 1368.8,1220 1360,1217.5 1355,1205 1350,1190 1345,1175.0"/>
<polygon fill="#0000F0" stroke="#0000F0" stroke-width="2" stroke-linejoin="round" points="1265,1237.5 1275,1231.2 1285,1235 1280,1242.5 1267.5,1242.5"/>
<polygon fill="#0000F0" stroke="#0000F0" stroke-width="2" stroke-linejoin="round" points="1265,1277.5 1275,1265 1282.5,1260 1287.5,1267.5 1297.5,1265 1303.8,1268.8 1292.5,1275 1280,1280 1272.5,1283.8"/>
<polygon fill="#0000F0" stroke="#0000F0" stroke-width="2" stroke-linejoin="round" points="1186.2,1291.2 1196.2,1283.8 1207.5,1300 1195,1307.5 1187.5,1302.5"/>
<polygon fill="#8F00F5" stroke="#8F00F5" stroke-width="2" stroke-linejoin="round" points="1100,1242.5 1120,1240 1120,1220 1152.5,1217.5 1153.8,1222.5 1160,1240 1175,1247.5 1190,1260 1207.5,1265 1212.5,1282.5 1207.5,1285 1196.2,1283.8 1186.2,1291.2 1187.5,1302.5 1182.5,1310 1170,1310 1162.5,1300 1150,1290 1141.2,1290 1132.5,1286.2 1122.5,1290 1100,1285.0"/>
<polygon fill="#8F00F5" stroke="#8F00F5" stroke-width="2" stroke-linejoin="round" points="1255,1192.5 1262.5,1205 1272.5,1235 1260,1245 1250,1255 1240,1265 1237.5,1277.5 1242.5,1290 1250,1300 1260,1307.5 1270,1295 1280,1282.5 1290,1275 1300,1270 1352.5,1250 1355,1237.5 1365,1232.5 1368.8,1220 1360,1217.5 1355,1205 1350,1190 1340,1192.5 1330,1200 1322.5,1210 1312.5,1222.5 1300,1220 1295,1212.5 1285,1207.5 1275,1192.5"/>
<polygon fill="#8F00F5" stroke="#8F00F5" stroke-width="2" stroke-linejoin="round" points="1310,1165 1340,1170 1345,1165 1350,1160 1350,1190 1345,1175 1335,1175 1320,1182.5 1307.5,1175.0"/>
<polygon fill="#F500F0" stroke="#F500F0" stroke-width="2" stroke-linejoin="round" points="1207.5,1285 1212.5,1282.5 1225,1287.5 1237.5,1277.5 1242.5,1290 1250,1300 1255,1307.5 1242.5,1320 1235,1327.5 1225,1330 1212.5,1335 1200,1342.5 1187.5,1350 1182.5,1357.5 1195,1362.5 1200,1362.5 1205,1370 1197.5,1372.5 1187.5,1375 1177.5,1380 1172.5,1385 1180,1388.8 1172.5,1391.2 1162.5,1390 1150,1395 1137.5,1396.2 1125,1400 1128.8,1420 1118.8,1420 1111.2,1417.5 1112.5,1410 1120,1400 1123.8,1390 1128.8,1380 1131.2,1365 1133.8,1350 1135,1335 1132.5,1320 1125,1310 1161.2,1335 1167.5,1327.5 1170,1310 1182.5,1310 1187.5,1302.5 1195,1307.5 1207.5,1300.0"/>
<polygon fill="#F500F0" stroke="#F500F0" stroke-width="2" stroke-linejoin="round" points="1100,1288.8 1117.5,1288.8 1117.5,1303.8 1100,1303.8"/>
<polygon fill="#F500F0" stroke="#F500F0" stroke-width="2" stroke-linejoin="round" points="1292.5,1237.5 1300,1235 1307.5,1242.5 1315,1252.5 1312.5,1260 1305,1257.5 1297.5,1247.5"/>
<polygon fill="#0000F0" stroke="#0000F0" stroke-width="2" stroke-linejoin="round" points="1125,1400 1137.5,1396.2 1141.2,1406.2 1128.8,1420.0"/>
<polygon fill="#8F00F5" stroke="#8F00F5" stroke-width="2" stroke-linejoin="round" points="1171.2,1345 1177.5,1342.5 1183.8,1352.5 1178.8,1355.0"/>
<polygon fill="#00F5F0" stroke="#00F5F0" stroke-width="2" stroke-linejoin="round" points="1412.5,1160 1427.5,1160 1425,1175 1420,1185 1416.2,1175.0"/>
<polygon fill="#0000F0" stroke="#0000F0" stroke-width="2" stroke-linejoin="round" points="1435,1202.5 1442.5,1195 1455,1190 1457.5,1207.5 1450,1206.2 1442.5,1207.5"/>
<polygon fill="#0000F0" stroke="#0000F0" stroke-width="2" stroke-linejoin="round" points="1497.5,1170 1505,1175 1502.5,1190 1500,1202.5 1512.5,1207.5 1510,1220 1495,1213.8 1482.5,1210 1482.5,1197.5 1487.5,1187.5 1492.5,1177.5"/>
<polygon fill="#00F5F0" stroke="#00F5F0" stroke-width="2" stroke-linejoin="round" points="1506.2,1172.5 1515,1165 1522.5,1170 1520,1182.5 1510,1185.0"/>
<polygon fill="#8F00F5" stroke="#8F00F5" stroke-width="2" stroke-linejoin="round" points="1478.8,1210 1482.5,1210 1495,1213.8 1510,1220 1505,1235 1500,1242.5 1492.5,1240 1485,1232.5 1480,1222.5"/>
<polygon fill="#F500F0" stroke="#F500F0" stroke-width="2" stroke-linejoin="round" points="1486.2,1227.5 1493.8,1216.2 1498,1231.2 1490,1232.5"/>
<polygon fill="#0000F0" stroke="#0000F0" stroke-width="2" stroke-linejoin="round" points="1288.8,1010 1277.5,1030 1280,1050 1290,1075 1300,1100 1307.5,1120 1312.5,1140 1312.5,1160 1317.5,1172 1350,1172 1340,1145 1330,1120 1322.5,1100 1315,1080 1305,1052.5 1297.5,1032.5"/>
<polygon fill="#0000F0" stroke="#0000F0" stroke-width="2" stroke-linejoin="round" points="1322.5,1100 1322.5,1090 1330,1085 1340,1087.5 1350,1105 1360,1107.5 1365,1117.5 1357.5,1132.5 1352.5,1150 1350,1172 1340,1145 1330,1120.0"/>
<polygon fill="#8F00F5" stroke="#8F00F5" stroke-width="2" stroke-linejoin="round" points="1310,1162.5 1320,1160 1340,1172 1312.5,1172.0"/>
<polygon fill="#00F5F0" stroke="#00F5F0" stroke-width="2" stroke-linejoin="round" points="1385,1107.5 1407.5,1100 1417.5,1102.5 1412.5,1112.5 1400,1120 1395,1115 1387.5,1115.0"/>
<polygon fill="#00F5F0" stroke="#00F5F0" stroke-width="2" stroke-linejoin="round" points="1383.8,1136.2 1392.5,1127.5 1407.5,1120 1422.5,1112.5 1432.5,1112.5 1430,1122.5 1422.5,1130 1415,1138.8 1400,1138.8"/>
<polygon fill="#00F5F0" stroke="#00F5F0" stroke-width="2" stroke-linejoin="round" points="1432.5,1120 1445,1112.5 1455,1107.5 1460,1120 1450,1125 1440,1130.0"/>
<polygon fill="#00F5F0" stroke="#00F5F0" stroke-width="2" stroke-linejoin="round" points="1456.2,1162.5 1457.5,1147.5 1462.5,1130 1467.5,1140 1475,1150 1467.5,1157.5"/>
<polygon fill="#00F5F0" stroke="#00F5F0" stroke-width="2" stroke-linejoin="round" points="1410,1172 1415,1160 1425,1152.5 1427.5,1165 1422.5,1172.0"/>
<polygon fill="#0000F0" stroke="#0000F0" stroke-width="2" stroke-linejoin="round" points="1360,1140 1371.2,1132.5 1372.5,1147.5 1365,1162.5 1360,1172 1355,1172.0"/>
<polygon fill="#0000F0" stroke="#0000F0" stroke-width="2" stroke-linejoin="round" points="1493.8,1160 1510,1155 1512.5,1162.5 1500,1172 1492.5,1172.0"/>
<polygon fill="#0000F0" stroke="#0000F0" stroke-width="2" stroke-linejoin="round" points="1537.5,1160 1550,1147.5 1562.5,1135 1570,1137.5 1557.5,1152.5 1545,1165.0"/>
<polygon fill="#0000F0" stroke="#0000F0" stroke-width="2" stroke-linejoin="round" points="1550,1082.5 1557.5,1090 1562.5,1100 1560,1115 1553.8,1117.5 1550,1100.0"/>
<use href="#bord" opacity="0.9"/>
</g>
<use href="#water"/>
<use href="#legend"/>
<use href="#sbar"/>
</g>
</svg></body></html>
